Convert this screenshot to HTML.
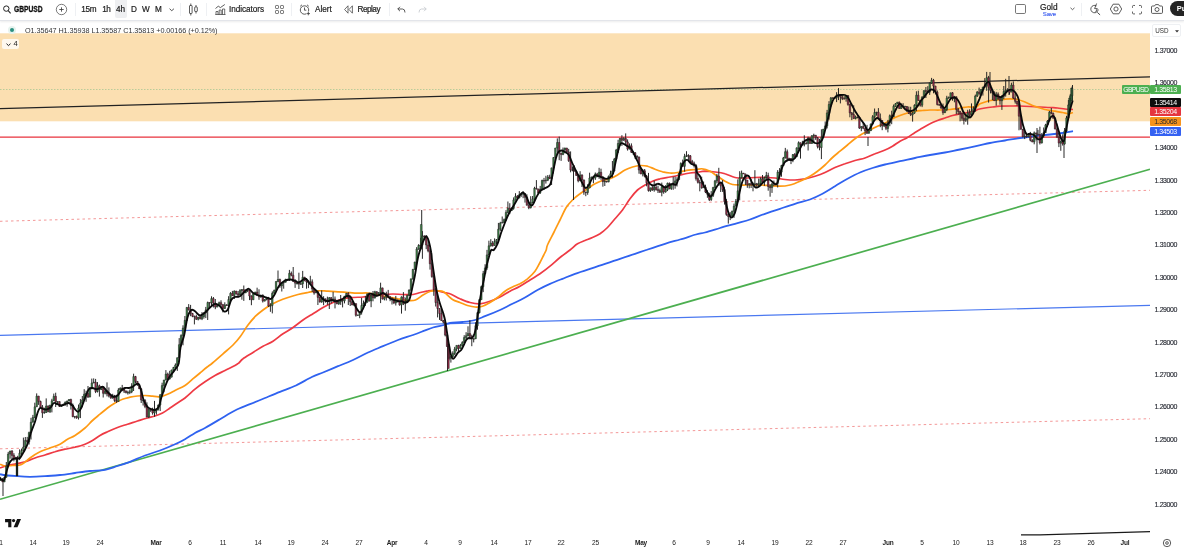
<!DOCTYPE html>
<html><head><meta charset="utf-8"><title>GBPUSD</title>
<style>
html,body{margin:0;padding:0;background:#fff;}
body{width:1184px;height:550px;overflow:hidden;position:relative;font-family:"Liberation Sans","DejaVu Sans",sans-serif;color:#131722;}
.chart{position:absolute;left:0;top:0;}
.tb{position:absolute;left:0;top:0;width:1184px;height:19.5px;background:#fff;border-bottom:1px solid #e3e5ea;box-shadow:0 1px 2px rgba(0,0,0,.08);}
.tb .t{position:absolute;top:4px;font-size:8.2px;line-height:11px;white-space:nowrap;color:#222;-webkit-text-stroke:0.2px #222;}
.tb .sep{position:absolute;top:3px;width:1px;height:13px;background:#eef0f3;}
.tb svg{position:absolute;overflow:visible;}
.legend{position:absolute;left:25px;top:25.5px;font-size:7.25px;line-height:10px;color:#333;white-space:nowrap;letter-spacing:-0.05px;}
.dot{position:absolute;left:9.5px;top:28px;width:4px;height:4px;border-radius:50%;background:#2b9080;box-shadow:0 0 0 2px #e6f3ee;}
.cnt{position:absolute;left:2.2px;top:38.7px;width:17px;height:10.5px;background:rgba(255,255,255,.78);border-radius:2px;font-size:7.6px;line-height:10.5px;color:#222;}
.axis{position:absolute;left:1150px;top:21px;width:35px;height:512px;background:#fff;}
.pl{position:absolute;left:1154.6px;font-size:7px;line-height:10px;color:#23262f;white-space:nowrap;letter-spacing:-0.4px;-webkit-text-stroke:0.12px #23262f;}
.dl{position:absolute;top:537.5px;width:30px;text-align:center;font-size:6.6px;line-height:10px;color:#1a1a1a;letter-spacing:-0.1px;}
.dl.b{font-weight:bold;color:#222;font-size:6.5px;letter-spacing:-0.2px;}
.tag{position:absolute;left:1150.3px;width:30.3px;height:9px;border-radius:1px;color:#fff;font-size:7px;line-height:9.4px;text-align:center;letter-spacing:-0.4px;}
.usd{position:absolute;left:1152px;top:24.3px;width:29px;height:12.5px;border:0.5px solid #eef0f3;border-radius:2px;font-size:6.3px;line-height:12.5px;color:#333;box-sizing:border-box;}
</style></head><body>
<svg class="chart" width="1184" height="550" viewBox="0 0 1184 550">
<rect x="0" y="33.3" width="1150" height="88" fill="#fbdfb1"/>
<line x1="0" y1="89.5" x2="1150" y2="89.5" stroke="#8fbf8a" stroke-width="0.6" stroke-dasharray="1.5,1.5"/>
<line x1="0" y1="221.3" x2="1150" y2="190.3" stroke="#f28b8b" stroke-width="0.9" stroke-dasharray="2.5,3"/>
<line x1="0" y1="448.8" x2="1150" y2="418.7" stroke="#f28b8b" stroke-width="0.9" stroke-dasharray="2.5,3"/>
<line x1="0" y1="335.4" x2="1150" y2="305.3" stroke="#4a78f0" stroke-width="1.2"/>
<line x1="0" y1="137.2" x2="1150" y2="137.2" stroke="#e8323c" stroke-width="1.3"/>
<line x1="0" y1="499.3" x2="1150" y2="169.2" stroke="#4caf50" stroke-width="1.7"/>
<line x1="0" y1="108.6" x2="1150" y2="76.8" stroke="#222" stroke-width="1.25"/>
<path d="M1021,534.9 L1040,534.8 L1150,531.6" fill="none" stroke="#1a1a1a" stroke-width="1.3"/>
<path d="M0.0,474.2 C1.2,474.5 4.6,475.2 7.5,475.5 C10.4,475.8 13.8,476.0 17.5,476.2 C21.2,476.5 25.4,476.8 30.0,476.8 C34.6,476.8 40.0,476.5 45.0,476.2 C50.0,476.0 55.0,475.5 60.0,475.0 C65.0,474.5 70.0,473.7 75.0,473.0 C80.0,472.3 85.0,471.5 90.0,471.0 C95.0,470.5 100.4,470.6 105.0,469.8 C109.6,468.9 113.3,467.3 117.5,466.0 C121.7,464.7 125.4,463.5 130.0,461.8 C134.6,460.0 140.0,457.4 145.0,455.5 C150.0,453.6 155.0,452.4 160.0,450.5 C165.0,448.6 170.8,446.1 175.0,444.2 C179.2,442.4 181.7,441.1 185.0,439.2 C188.3,437.4 191.7,434.9 195.0,433.0 C198.3,431.1 200.8,430.3 205.0,428.0 C209.2,425.7 215.0,422.2 220.0,419.2 C225.0,416.3 230.0,413.0 235.0,410.5 C240.0,408.0 245.0,406.3 250.0,404.2 C255.0,402.2 260.0,400.1 265.0,398.0 C270.0,395.9 274.8,393.8 280.0,391.8 C285.2,389.7 290.7,388.0 296.0,385.5 C301.3,383.0 307.2,379.2 311.8,377.0 C316.2,374.8 318.6,374.3 323.0,372.5 C327.4,370.7 333.0,368.3 338.0,366.2 C343.0,364.2 348.0,362.3 353.0,360.0 C358.0,357.7 363.0,354.8 368.0,352.5 C373.0,350.2 378.0,348.3 383.0,346.2 C388.0,344.2 393.0,341.9 398.0,340.0 C403.0,338.1 408.8,336.5 413.0,335.0 C417.2,333.5 419.7,332.5 423.0,331.2 C426.3,330.0 429.5,328.5 433.0,327.5 C436.5,326.5 441.2,325.8 444.0,325.0 C446.8,324.2 446.9,323.5 450.0,323.0 C453.1,322.5 458.3,322.5 462.5,322.0 C466.7,321.5 471.2,321.0 475.0,320.0 C478.8,319.0 480.8,317.9 485.0,316.2 C489.2,314.6 495.4,312.1 500.0,310.0 C504.6,307.9 508.3,305.8 512.5,303.8 C516.7,301.7 520.8,299.8 525.0,297.5 C529.2,295.2 533.3,292.3 537.5,290.0 C541.7,287.7 545.8,285.6 550.0,283.8 C554.2,281.9 558.3,280.4 562.5,278.8 C566.7,277.1 570.4,275.4 575.0,273.8 C579.6,272.1 585.0,270.4 590.0,268.8 C595.0,267.1 600.0,265.4 605.0,263.8 C610.0,262.1 615.0,260.4 620.0,258.8 C625.0,257.1 630.6,255.2 635.0,253.8 C639.4,252.3 641.2,251.7 646.2,250.0 C651.2,248.3 659.4,245.5 665.0,243.8 C670.6,242.0 674.8,241.0 680.0,239.5 C685.2,238.0 691.8,235.7 696.0,234.5 C700.2,233.3 701.0,233.6 705.0,232.5 C709.0,231.4 715.0,229.5 720.0,228.0 C725.0,226.5 730.0,225.2 735.0,223.8 C740.0,222.3 745.0,221.2 750.0,219.5 C755.0,217.8 760.0,215.5 765.0,213.8 C770.0,212.0 775.0,210.4 780.0,208.8 C785.0,207.1 790.0,205.3 795.0,203.8 C800.0,202.2 805.4,201.2 810.0,199.5 C814.6,197.8 818.3,196.0 822.5,193.8 C826.7,191.5 830.8,188.8 835.0,186.2 C839.2,183.8 843.3,181.0 847.5,178.8 C851.7,176.5 855.8,174.3 860.0,172.5 C864.2,170.7 868.3,169.3 872.5,168.0 C876.7,166.7 880.4,165.6 885.0,164.5 C889.6,163.4 895.0,162.3 900.0,161.2 C905.0,160.2 910.0,159.0 915.0,158.0 C920.0,157.0 925.0,155.9 930.0,155.0 C935.0,154.1 940.0,153.4 945.0,152.5 C950.0,151.6 954.8,150.5 960.0,149.5 C965.2,148.5 971.0,147.3 976.0,146.2 C981.0,145.2 985.2,144.0 990.0,143.0 C994.8,142.0 1000.0,141.3 1005.0,140.5 C1010.0,139.7 1015.0,138.7 1020.0,138.0 C1025.0,137.3 1030.0,136.8 1035.0,136.2 C1040.0,135.7 1045.4,135.0 1050.0,134.5 C1054.6,134.0 1058.7,133.5 1062.5,133.0 C1066.3,132.5 1071.2,131.5 1073.0,131.2" fill="none" stroke="#2f62f0" stroke-width="1.8" stroke-linejoin="round"/>
<path d="M0.0,468.0 C1.2,467.6 5.0,466.1 7.5,465.5 C10.0,464.9 12.1,464.9 15.0,464.2 C17.9,463.6 21.7,462.8 25.0,461.8 C28.3,460.7 31.7,459.1 35.0,458.0 C38.3,456.9 41.7,456.0 45.0,455.0 C48.3,454.0 51.7,452.7 55.0,451.8 C58.3,450.8 61.7,450.0 65.0,449.2 C68.3,448.5 71.7,448.1 75.0,447.2 C78.3,446.4 82.1,445.4 85.0,444.2 C87.9,443.1 90.0,442.0 92.5,440.5 C95.0,439.0 97.5,437.0 100.0,435.5 C102.5,434.0 104.6,433.1 107.5,431.8 C110.4,430.4 114.2,428.8 117.5,427.5 C120.8,426.2 124.2,425.3 127.5,424.2 C130.8,423.2 134.2,422.0 137.5,421.0 C140.8,420.0 144.6,418.8 147.5,418.0 C150.4,417.2 152.5,416.8 155.0,416.0 C157.5,415.2 160.0,414.3 162.5,413.0 C165.0,411.7 167.5,409.7 170.0,408.0 C172.5,406.3 175.0,404.7 177.5,403.0 C180.0,401.3 182.1,400.3 185.0,398.0 C187.9,395.7 191.7,392.0 195.0,389.2 C198.3,386.5 201.7,384.0 205.0,381.8 C208.3,379.5 211.7,377.4 215.0,375.5 C218.3,373.6 221.7,372.2 225.0,370.5 C228.3,368.8 232.7,366.8 235.0,365.5 C237.3,364.2 237.4,364.1 238.8,363.0 C240.1,361.9 240.6,360.5 243.0,358.8 C245.4,357.0 249.7,354.6 253.0,352.5 C256.3,350.4 259.7,348.1 263.0,346.2 C266.3,344.4 269.7,343.3 273.0,341.2 C276.3,339.2 279.7,336.0 283.0,333.8 C286.3,331.5 289.7,329.8 293.0,327.5 C296.3,325.2 299.7,322.3 303.0,320.0 C306.3,317.7 309.7,315.8 313.0,313.8 C316.3,311.7 319.7,309.4 323.0,307.5 C326.3,305.6 329.7,304.0 333.0,302.5 C336.3,301.0 339.7,299.6 343.0,298.8 C346.3,297.9 349.7,297.8 353.0,297.5 C356.3,297.2 359.7,297.3 363.0,297.0 C366.3,296.7 369.7,295.9 373.0,295.5 C376.3,295.1 379.7,294.8 383.0,294.5 C386.3,294.2 389.7,294.0 393.0,294.0 C396.3,294.0 399.7,294.4 403.0,294.5 C406.3,294.6 410.1,294.8 413.0,294.5 C415.9,294.2 418.0,293.1 420.5,292.5 C423.0,291.9 425.5,291.1 428.0,290.8 C430.5,290.4 432.8,290.2 435.5,290.5 C438.2,290.8 441.6,292.0 444.0,292.5 C446.4,293.0 447.3,292.7 450.0,293.8 C452.7,294.8 456.7,297.3 460.0,298.8 C463.3,300.2 466.7,301.7 470.0,302.5 C473.3,303.3 476.7,304.0 480.0,303.8 C483.3,303.5 486.7,302.4 490.0,301.2 C493.3,300.1 496.7,298.7 500.0,297.0 C503.3,295.3 506.7,293.0 510.0,291.2 C513.3,289.5 516.7,288.1 520.0,286.2 C523.3,284.4 526.7,282.1 530.0,280.0 C533.3,277.9 536.7,276.0 540.0,273.8 C543.3,271.5 546.7,269.0 550.0,266.2 C553.3,263.5 556.7,260.2 560.0,257.5 C563.3,254.8 567.1,252.3 570.0,250.0 C572.9,247.7 575.0,245.3 577.5,243.8 C580.0,242.2 582.5,241.5 585.0,240.5 C587.5,239.5 590.0,238.6 592.5,237.5 C595.0,236.4 597.5,235.4 600.0,233.8 C602.5,232.1 605.0,230.0 607.5,227.5 C610.0,225.0 612.5,221.7 615.0,218.8 C617.5,215.8 620.0,213.3 622.5,210.0 C625.0,206.7 627.5,202.1 630.0,198.8 C632.5,195.4 635.0,192.3 637.5,190.0 C640.0,187.7 642.5,186.5 645.0,185.0 C647.5,183.5 650.0,182.3 652.5,181.2 C655.0,180.2 657.1,179.5 660.0,178.8 C662.9,178.0 666.7,177.6 670.0,177.0 C673.3,176.4 676.7,175.7 680.0,175.0 C683.3,174.3 687.3,173.4 690.0,173.0 C692.7,172.6 693.5,172.8 696.0,172.5 C698.5,172.2 701.8,171.3 705.0,171.2 C708.2,171.2 711.7,171.6 715.0,172.0 C718.3,172.4 721.7,172.8 725.0,173.8 C728.3,174.7 731.7,176.8 735.0,177.5 C738.3,178.2 741.7,178.0 745.0,178.0 C748.3,178.0 751.7,177.6 755.0,177.5 C758.3,177.4 761.7,177.4 765.0,177.5 C768.3,177.6 771.7,177.7 775.0,178.0 C778.3,178.3 781.7,179.2 785.0,179.5 C788.3,179.8 791.7,180.1 795.0,180.0 C798.3,179.9 801.7,179.4 805.0,178.8 C808.3,178.1 811.7,177.3 815.0,176.2 C818.3,175.2 821.7,174.0 825.0,172.5 C828.3,171.0 831.7,169.0 835.0,167.5 C838.3,166.0 841.7,164.9 845.0,163.8 C848.3,162.6 851.7,161.5 855.0,160.5 C858.3,159.5 861.7,159.1 865.0,158.0 C868.3,156.9 871.7,155.1 875.0,153.8 C878.3,152.4 882.1,151.2 885.0,150.0 C887.9,148.8 890.0,147.7 892.5,146.2 C895.0,144.8 897.5,142.7 900.0,141.2 C902.5,139.8 905.0,139.0 907.5,137.5 C910.0,136.0 912.5,134.1 915.0,132.5 C917.5,130.9 920.0,129.5 922.5,128.0 C925.0,126.5 927.5,125.0 930.0,123.8 C932.5,122.5 935.0,121.5 937.5,120.5 C940.0,119.5 942.5,118.8 945.0,118.0 C947.5,117.2 950.0,116.2 952.5,115.5 C955.0,114.8 957.5,114.2 960.0,113.8 C962.5,113.2 964.8,113.0 967.5,112.5 C970.2,112.0 974.3,111.0 976.0,110.5 C977.7,110.0 976.0,109.9 977.5,109.5 C979.0,109.1 982.5,108.4 985.0,108.0 C987.5,107.6 990.0,107.3 992.5,107.0 C995.0,106.7 997.1,106.4 1000.0,106.2 C1002.9,106.1 1006.7,106.0 1010.0,106.0 C1013.3,106.0 1016.7,105.9 1020.0,106.0 C1023.3,106.1 1026.7,106.3 1030.0,106.5 C1033.3,106.7 1036.7,106.8 1040.0,107.0 C1043.3,107.2 1047.1,107.3 1050.0,107.5 C1052.9,107.7 1055.0,107.8 1057.5,108.0 C1060.0,108.2 1062.4,108.8 1065.0,109.0 C1067.6,109.2 1071.7,109.4 1073.0,109.5" fill="none" stroke="#ee3a44" stroke-width="1.7" stroke-linejoin="round"/>
<path d="M0.0,464.2 C0.8,464.5 2.9,465.8 5.0,466.0 C7.1,466.2 10.0,465.7 12.5,465.5 C15.0,465.3 18.1,465.4 20.0,465.0 C21.9,464.6 22.1,464.2 23.8,463.0 C25.4,461.8 27.3,459.9 30.0,458.0 C32.7,456.1 36.7,453.4 40.0,451.8 C43.3,450.1 46.7,449.2 50.0,448.0 C53.3,446.8 57.1,445.7 60.0,444.2 C62.9,442.8 65.0,440.7 67.5,439.2 C70.0,437.8 72.1,437.4 75.0,435.5 C77.9,433.6 82.1,430.5 85.0,428.0 C87.9,425.5 90.0,422.8 92.5,420.5 C95.0,418.2 97.5,416.3 100.0,414.2 C102.5,412.2 105.0,409.9 107.5,408.0 C110.0,406.1 112.5,404.5 115.0,403.0 C117.5,401.5 120.0,400.2 122.5,399.2 C125.0,398.3 127.5,397.8 130.0,397.2 C132.5,396.7 135.0,396.3 137.5,396.0 C140.0,395.7 142.5,395.5 145.0,395.5 C147.5,395.5 150.0,396.0 152.5,396.2 C155.0,396.5 157.5,397.1 160.0,396.8 C162.5,396.4 165.0,395.3 167.5,394.2 C170.0,393.2 172.1,392.0 175.0,390.5 C177.9,389.0 182.1,387.4 185.0,385.5 C187.9,383.6 190.0,381.3 192.5,379.2 C195.0,377.2 197.5,375.1 200.0,373.0 C202.5,370.9 205.4,368.4 207.5,366.8 C209.6,365.1 209.9,365.2 212.5,363.0 C215.1,360.8 219.6,356.8 223.0,353.8 C226.4,350.8 230.1,347.9 233.0,345.0 C235.9,342.1 238.0,339.6 240.5,336.2 C243.0,332.9 245.5,328.3 248.0,325.0 C250.5,321.7 253.0,318.8 255.5,316.2 C258.0,313.8 260.5,311.9 263.0,310.0 C265.5,308.1 268.0,306.5 270.5,305.0 C273.0,303.5 275.1,302.5 278.0,301.2 C280.9,300.0 284.7,298.6 288.0,297.5 C291.3,296.4 294.7,295.3 298.0,294.5 C301.3,293.7 304.7,293.1 308.0,292.5 C311.3,291.9 314.7,291.0 318.0,290.8 C321.3,290.5 324.7,291.1 328.0,291.2 C331.3,291.4 334.7,291.5 338.0,291.8 C341.3,292.0 344.7,292.2 348.0,292.5 C351.3,292.8 354.7,293.2 358.0,293.2 C361.3,293.3 364.7,292.7 368.0,293.0 C371.3,293.3 374.7,294.3 378.0,295.0 C381.3,295.7 384.7,296.4 388.0,297.0 C391.3,297.6 394.7,298.2 398.0,298.8 C401.3,299.3 405.1,300.3 408.0,300.5 C410.9,300.7 413.0,300.9 415.5,300.0 C418.0,299.1 420.5,296.5 423.0,295.0 C425.5,293.5 428.0,292.0 430.5,291.2 C433.0,290.5 435.8,290.6 438.0,290.8 C440.2,290.9 441.6,290.5 444.0,292.0 C446.4,293.5 449.8,297.8 452.5,299.5 C455.2,301.2 457.5,301.5 460.0,302.5 C462.5,303.5 465.0,304.8 467.5,305.5 C470.0,306.2 472.5,306.9 475.0,307.0 C477.5,307.1 480.0,307.0 482.5,306.2 C485.0,305.5 487.5,304.0 490.0,302.5 C492.5,301.0 495.0,299.4 497.5,297.5 C500.0,295.6 502.5,293.0 505.0,291.2 C507.5,289.5 510.0,288.2 512.5,287.0 C515.0,285.8 517.5,285.1 520.0,283.8 C522.5,282.4 525.0,280.8 527.5,278.8 C530.0,276.7 532.9,274.0 535.0,271.2 C537.1,268.5 538.5,265.2 540.0,262.5 C541.5,259.8 542.7,257.1 543.8,255.0 C544.8,252.9 545.6,251.7 546.2,250.0 C546.9,248.3 546.2,247.9 547.5,245.0 C548.8,242.1 551.7,236.7 553.8,232.5 C555.8,228.3 557.9,224.2 560.0,220.0 C562.1,215.8 564.2,210.8 566.2,207.5 C568.3,204.2 570.2,202.3 572.5,200.0 C574.8,197.7 577.5,195.6 580.0,193.8 C582.5,191.9 585.0,190.4 587.5,188.8 C590.0,187.1 592.5,185.1 595.0,183.8 C597.5,182.4 600.0,181.3 602.5,180.5 C605.0,179.7 607.5,179.7 610.0,178.8 C612.5,177.8 615.0,176.5 617.5,175.0 C620.0,173.5 622.5,171.3 625.0,170.0 C627.5,168.7 630.0,167.8 632.5,167.0 C635.0,166.2 637.5,165.6 640.0,165.5 C642.5,165.4 645.0,165.6 647.5,166.2 C650.0,166.9 652.5,168.3 655.0,169.2 C657.5,170.2 660.0,171.1 662.5,171.8 C665.0,172.4 667.5,172.9 670.0,173.0 C672.5,173.1 675.0,172.9 677.5,172.5 C680.0,172.1 681.9,171.2 685.0,170.8 C688.1,170.2 693.1,169.8 696.0,169.5 C698.9,169.2 700.2,168.5 702.5,168.8 C704.8,169.0 707.5,170.0 710.0,171.2 C712.5,172.5 715.0,174.6 717.5,176.2 C720.0,177.9 722.5,179.9 725.0,181.2 C727.5,182.6 730.0,183.9 732.5,184.5 C735.0,185.1 737.1,184.9 740.0,185.0 C742.9,185.1 746.7,185.0 750.0,185.0 C753.3,185.0 756.7,184.9 760.0,185.0 C763.3,185.1 766.7,185.3 770.0,185.5 C773.3,185.7 776.7,186.3 780.0,186.2 C783.3,186.2 786.7,185.8 790.0,185.0 C793.3,184.2 796.7,182.7 800.0,181.2 C803.3,179.8 807.1,177.9 810.0,176.2 C812.9,174.6 815.0,173.1 817.5,171.2 C820.0,169.4 822.5,167.3 825.0,165.0 C827.5,162.7 830.0,159.8 832.5,157.5 C835.0,155.2 837.5,153.3 840.0,151.2 C842.5,149.2 845.0,147.1 847.5,145.0 C850.0,142.9 852.5,140.6 855.0,138.8 C857.5,136.9 860.0,135.2 862.5,133.8 C865.0,132.3 867.5,131.2 870.0,130.0 C872.5,128.8 875.0,127.4 877.5,126.2 C880.0,125.1 882.5,124.2 885.0,123.0 C887.5,121.8 890.0,120.0 892.5,118.8 C895.0,117.5 897.5,116.5 900.0,115.5 C902.5,114.5 905.0,113.7 907.5,113.0 C910.0,112.3 912.5,111.7 915.0,111.2 C917.5,110.8 920.0,110.7 922.5,110.5 C925.0,110.3 927.1,110.1 930.0,110.0 C932.9,109.9 936.7,110.1 940.0,110.0 C943.3,109.9 946.7,109.8 950.0,109.5 C953.3,109.2 957.1,108.4 960.0,108.0 C962.9,107.6 964.8,107.2 967.5,107.0 C970.2,106.8 973.9,107.5 976.0,107.0 C978.1,106.5 978.1,104.7 980.0,103.8 C981.9,102.8 985.0,101.9 987.5,101.2 C990.0,100.6 992.5,100.3 995.0,100.0 C997.5,99.7 1000.0,99.7 1002.5,99.5 C1005.0,99.3 1007.5,98.8 1010.0,98.8 C1012.5,98.8 1015.0,99.0 1017.5,99.5 C1020.0,100.0 1022.5,101.0 1025.0,102.0 C1027.5,103.0 1030.0,104.5 1032.5,105.5 C1035.0,106.5 1037.5,107.2 1040.0,108.0 C1042.5,108.8 1045.0,109.5 1047.5,110.0 C1050.0,110.5 1052.5,110.8 1055.0,111.2 C1057.5,111.7 1060.2,112.1 1062.5,112.5 C1064.8,112.9 1067.0,113.8 1068.8,113.8 C1070.5,113.8 1072.3,112.7 1073.0,112.5" fill="none" stroke="#ff9a14" stroke-width="1.7" stroke-linejoin="round"/>
<path d="M0.6,476.9V480.7M2.5,478.3V482.0M4.4,477.1V482.1M6.3,462.0V477.6M8.2,451.9V467.4M10.1,450.8V458.7M12.0,450.1V459.4M13.9,453.2V461.3M15.8,457.0V459.4M17.7,455.8V458.1M19.6,449.4V460.1M21.5,448.6V455.0M23.4,437.6V450.9M25.3,437.0V447.4M27.2,436.9V443.6M29.1,431.6V444.5M31.0,417.8V439.5M32.9,414.9V422.3M34.8,402.7V418.3M36.7,393.4V406.8M38.6,395.9V404.9M40.5,400.7V408.1M42.4,405.0V417.9M44.3,407.7V413.6M46.2,398.4V412.9M48.1,405.4V412.3M50.0,405.0V413.0M51.9,398.8V412.4M53.8,393.6V400.9M55.7,392.7V407.0M57.6,401.3V404.4M59.5,401.4V407.0M61.4,405.0V406.9M63.3,403.6V405.1M65.2,401.5V405.7M67.1,400.7V406.7M69.0,399.2V401.2M70.9,398.7V409.5M72.8,403.5V417.1M74.7,416.3V418.5M76.6,415.6V418.8M78.5,404.5V419.5M80.4,399.1V418.1M82.3,396.0V407.2M84.2,389.2V400.0M86.1,390.6V401.8M88.0,386.0V398.0M89.9,387.3V397.4M91.8,378.6V389.4M93.7,378.4V383.2M95.6,378.9V393.1M97.5,382.1V392.5M99.4,384.6V396.6M101.3,386.3V389.9M103.2,386.3V397.5M105.1,388.3V394.4M107.0,382.4V396.4M108.9,387.4V397.4M110.8,395.4V398.8M112.7,393.8V398.7M114.6,394.9V401.9M116.5,394.8V402.8M118.4,388.2V401.6M120.3,387.5V390.0M122.2,384.9V391.2M124.1,387.5V393.0M126.0,390.4V393.4M127.9,390.7V394.6M129.8,389.5V394.1M131.7,383.2V393.2M133.6,373.7V391.0M135.5,375.9V383.3M137.4,381.1V385.9M139.3,383.9V389.0M141.2,388.4V403.0M143.1,399.6V405.5M145.0,399.2V408.2M146.9,402.3V417.4M148.8,409.1V417.9M150.7,409.6V411.9M152.6,407.7V414.7M154.5,400.9V416.7M156.4,409.1V414.6M158.3,404.6V410.5M160.2,394.3V411.0M162.1,382.7V394.9M164.0,379.9V392.3M165.9,370.1V380.3M167.8,372.6V379.8M169.7,370.8V379.6M171.6,369.7V377.5M173.5,366.9V370.9M175.4,363.4V367.9M177.3,357.7V370.9M179.2,338.1V358.0M181.1,334.3V346.3M183.0,325.3V345.3M184.9,316.0V331.0M186.8,307.2V320.7M188.7,304.1V310.5M190.6,304.9V316.2M192.5,312.9V317.2M194.4,315.6V324.4M196.3,314.7V319.9M198.2,317.0V320.4M200.1,315.3V319.4M202.0,312.1V320.1M203.9,312.4V318.6M205.8,306.9V318.1M207.7,301.6V320.0M209.6,302.4V307.2M211.5,296.3V306.0M213.4,297.0V307.5M215.3,299.0V309.2M217.2,304.8V307.2M219.1,301.6V305.7M221.0,300.3V307.2M222.9,304.5V312.4M224.8,302.3V308.7M226.7,304.2V305.7M228.6,296.2V314.4M230.5,292.2V301.0M232.4,290.9V295.9M234.3,290.4V299.0M236.2,290.9V294.6M238.1,291.0V297.7M240.0,289.1V295.3M241.9,289.1V299.7M243.8,285.5V300.9M245.7,289.5V293.2M247.6,289.6V292.1M249.5,289.6V300.1M251.4,295.3V305.2M253.3,293.5V299.8M255.2,291.8V294.6M257.1,287.7V295.5M259.0,289.3V299.8M260.9,294.6V297.9M262.8,294.3V302.5M264.7,299.4V301.4M266.6,296.8V300.3M268.5,296.9V307.0M270.4,303.2V311.8M272.3,291.4V313.4M274.2,289.6V293.4M276.1,281.2V292.0M278.0,270.5V282.2M279.9,278.6V287.8M281.8,282.4V291.5M283.7,281.6V288.7M285.6,278.8V282.5M287.5,279.1V280.4M289.4,269.9V281.0M291.3,271.5V276.3M293.2,267.0V281.9M295.1,279.1V287.9M297.0,281.8V284.5M298.9,272.7V289.0M300.8,281.6V284.1M302.7,270.9V288.0M304.6,276.9V281.1M306.5,278.0V288.7M308.4,280.4V288.1M310.3,275.8V284.8M312.2,279.4V292.0M314.1,288.9V294.7M316.0,290.1V293.0M317.9,290.8V305.0M319.8,296.7V302.6M321.7,290.4V302.8M323.6,296.2V305.2M325.5,298.7V302.6M327.4,296.7V304.8M329.3,297.1V309.0M331.2,297.1V303.4M333.1,291.8V301.6M335.0,296.5V308.4M336.9,300.0V304.3M338.8,301.6V304.9M340.7,295.0V304.9M342.6,299.7V307.4M344.5,296.0V303.4M346.4,292.9V296.1M348.3,292.3V305.0M350.2,296.5V306.0M352.1,300.5V305.1M354.0,303.1V306.1M355.9,303.5V316.6M357.8,314.8V315.5M359.7,311.6V318.2M361.6,297.9V314.6M363.5,300.5V306.4M365.4,296.1V305.9M367.3,293.7V302.7M369.2,292.6V301.6M371.1,293.6V307.2M373.0,291.0V301.3M374.9,290.8V298.7M376.8,291.3V297.0M378.7,292.3V293.8M380.6,282.7V303.1M382.5,287.7V299.4M384.4,296.6V300.4M386.3,291.7V300.5M388.2,289.9V297.9M390.1,296.0V301.2M392.0,297.6V304.5M393.9,298.3V304.1M395.8,295.9V305.5M397.7,299.6V302.5M399.6,300.9V305.7M401.5,296.4V313.6M403.4,292.1V305.1M405.3,297.6V310.7M407.2,294.8V302.3M409.1,289.4V296.1M411.0,278.8V290.9M412.9,268.9V279.7M414.8,261.8V269.7M416.7,247.1V264.4M418.6,244.2V249.8M420.5,237.8V246.4M422.4,231.1V258.8M424.3,235.4V240.0M426.2,235.5V249.1M428.1,239.8V252.3M430.0,248.3V269.6M431.9,261.4V277.7M433.8,274.8V295.8M435.7,288.0V306.5M437.6,295.7V317.4M439.5,308.4V319.9M441.4,309.4V320.9M443.3,319.9V323.4M445.2,321.6V336.4M447.1,334.0V346.9M449.0,346.5V360.3M450.9,356.3V362.6M452.8,351.3V357.3M454.7,346.9V355.0M456.6,345.4V351.3M458.5,344.8V351.9M460.4,343.9V348.7M462.3,341.2V345.7M464.2,335.2V342.8M466.1,332.2V339.3M468.0,326.3V336.2M469.9,320.2V339.5M471.8,334.7V346.2M473.7,338.2V342.4M475.6,322.3V339.1M477.5,311.9V329.7M479.4,299.1V313.4M481.3,285.7V299.7M483.2,270.9V292.1M485.1,264.2V273.9M487.0,249.9V269.8M488.9,240.7V255.2M490.8,239.2V246.6M492.7,241.0V246.6M494.6,238.4V245.7M496.5,239.0V244.1M498.4,222.9V239.7M500.3,221.8V231.0M502.2,216.5V223.2M504.1,218.5V223.1M506.0,210.2V221.1M507.9,201.5V213.2M509.8,203.2V214.1M511.7,207.5V210.5M513.6,197.4V209.7M515.5,193.2V200.6M517.4,195.1V198.7M519.3,191.1V198.1M521.2,193.7V196.9M523.1,191.2V198.2M525.0,193.5V202.6M526.9,194.3V205.4M528.8,202.1V209.2M530.7,196.2V208.4M532.6,196.0V203.3M534.5,186.8V202.7M536.4,180.1V189.5M538.3,188.9V193.6M540.2,185.9V193.9M542.1,179.6V189.8M544.0,177.9V190.0M545.9,175.8V183.6M547.8,175.0V181.1M549.7,174.7V178.8M551.6,167.7V185.0M553.5,157.2V173.5M555.4,147.9V159.7M557.3,138.4V152.1M559.2,136.6V160.2M561.1,152.7V160.9M563.0,147.5V155.2M564.9,147.7V153.3M566.8,147.9V152.6M568.7,148.9V161.9M570.6,151.4V172.3M572.5,166.4V171.3M574.4,165.5V171.4M576.3,170.7V175.5M578.2,175.5V182.3M580.1,171.2V181.2M582.0,174.3V187.0M583.9,179.5V194.8M585.8,191.8V196.2M587.7,184.2V194.8M589.6,172.7V188.1M591.5,176.8V178.5M593.4,175.7V183.2M595.3,172.5V179.9M597.2,172.9V177.2M599.1,167.8V178.9M601.0,168.7V179.8M602.9,176.2V186.7M604.8,178.4V186.0M606.7,180.9V182.5M608.6,175.5V182.3M610.5,170.7V176.7M612.4,161.0V177.6M614.3,157.9V171.4M616.2,148.9V159.3M618.1,139.8V153.0M620.0,138.0V145.7M621.9,135.2V145.9M623.8,137.2V140.8M625.7,133.4V145.5M627.6,139.4V150.6M629.5,143.4V149.4M631.4,143.4V153.0M633.3,150.9V155.0M635.2,152.2V159.0M637.1,155.2V158.6M639.0,156.6V173.7M640.9,168.3V174.2M642.8,169.0V176.4M644.7,169.0V177.4M646.6,174.9V186.3M648.5,172.9V191.6M650.4,187.8V191.9M652.3,184.9V190.9M654.2,180.6V191.7M656.1,183.4V190.7M658.0,185.6V193.0M659.9,188.6V192.8M661.8,182.6V196.3M663.7,185.9V193.8M665.6,185.2V192.7M667.5,182.6V191.1M669.4,182.5V189.3M671.3,183.6V189.9M673.2,176.7V189.8M675.1,176.6V188.7M677.0,177.2V186.5M678.9,172.8V179.9M680.8,162.4V173.9M682.7,159.6V166.7M684.6,153.8V171.7M686.5,151.2V157.0M688.4,154.2V160.9M690.3,155.0V162.0M692.2,159.9V163.6M694.1,161.6V167.5M696.0,164.1V180.6M697.9,174.2V183.5M699.8,179.9V191.3M701.7,176.7V188.7M703.6,181.5V187.8M705.5,184.7V193.1M707.4,190.3V197.8M709.3,192.9V201.0M711.2,191.1V200.9M713.1,186.8V197.0M715.0,179.9V188.5M716.9,173.9V183.3M718.8,167.8V185.5M720.7,183.1V192.0M722.6,180.1V191.9M724.5,187.3V204.6M726.4,199.1V215.8M728.3,214.1V223.6M730.2,212.2V220.1M732.1,210.6V217.2M734.0,203.6V217.8M735.9,199.0V206.2M737.8,179.4V202.5M739.7,171.2V200.3M741.6,170.6V178.4M743.5,173.1V173.9M745.4,173.7V185.0M747.3,180.1V187.8M749.2,183.5V188.3M751.1,179.0V188.0M753.0,182.6V191.3M754.9,170.2V187.1M756.8,182.9V188.1M758.7,178.6V186.6M760.6,177.4V186.0M762.5,175.0V183.2M764.4,176.5V185.8M766.3,171.9V179.7M768.2,172.7V190.7M770.1,184.2V196.7M772.0,182.7V192.9M773.9,180.5V186.2M775.8,183.2V184.2M777.7,170.1V187.5M779.6,168.1V177.0M781.5,164.8V176.7M783.4,156.9V165.7M785.3,147.9V158.5M787.2,149.5V161.1M789.1,157.8V159.2M791.0,158.2V164.1M792.9,154.0V162.2M794.8,153.0V158.8M796.7,147.4V157.1M798.6,141.4V149.7M800.5,142.6V158.6M802.4,140.8V145.0M804.3,135.3V146.4M806.2,141.3V144.2M808.1,136.7V150.5M810.0,137.3V143.6M811.9,135.2V143.7M813.8,133.7V142.8M815.7,135.0V139.9M817.6,137.0V148.4M819.5,138.9V150.3M821.4,129.3V159.1M823.3,129.0V138.1M825.2,121.5V129.3M827.1,109.9V128.4M829.0,101.2V119.6M830.9,97.0V106.7M832.8,97.2V98.2M834.7,97.2V98.6M836.6,92.2V102.1M838.5,88.1V100.1M840.4,94.3V103.4M842.3,94.7V100.1M844.2,96.2V99.0M846.1,95.6V101.7M848.0,95.0V105.7M849.9,103.7V117.3M851.8,112.0V120.1M853.7,105.3V118.7M855.6,115.5V119.4M857.5,116.5V118.3M859.4,116.9V128.9M861.3,126.3V131.2M863.2,122.5V129.2M865.1,128.2V135.1M867.0,124.9V133.8M868.9,130.4V133.7M870.8,123.7V130.9M872.7,115.1V124.7M874.6,108.5V118.8M876.5,111.9V115.7M878.4,108.1V119.3M880.3,113.5V127.2M882.2,120.1V130.2M884.1,123.7V127.0M886.0,122.7V130.1M887.9,119.9V132.4M889.8,114.5V126.2M891.7,110.7V124.2M893.6,104.5V116.9M895.5,103.1V106.8M897.4,102.0V104.0M899.3,101.6V108.6M901.2,103.3V108.8M903.1,103.2V107.2M905.0,105.7V107.4M906.9,106.1V112.0M908.8,106.6V113.9M910.7,106.8V116.0M912.6,111.9V121.6M914.5,104.3V113.8M916.4,91.3V111.2M918.3,90.7V100.6M920.2,99.8V106.6M922.1,96.1V107.1M924.0,90.5V97.6M925.9,87.0V98.0M927.8,86.2V92.2M929.7,82.5V94.9M931.6,77.9V83.9M933.5,78.9V93.3M935.4,85.8V94.4M937.3,90.5V105.4M939.2,104.3V105.6M941.1,104.0V108.8M943.0,103.6V114.8M944.9,107.0V113.1M946.8,95.8V111.1M948.7,96.6V98.7M950.6,92.8V98.3M952.5,92.1V100.7M954.4,95.9V102.3M956.3,96.6V114.3M958.2,108.0V114.7M960.1,110.9V121.3M962.0,112.5V120.9M963.9,113.7V124.5M965.8,115.4V121.9M967.7,109.8V124.7M969.6,109.3V117.3M971.5,103.4V117.2M973.4,106.4V112.5M975.3,94.6V111.8M977.2,91.0V97.0M979.1,87.6V95.3M981.0,89.2V95.7M982.9,86.9V95.6M984.8,78.1V87.7M986.7,71.9V90.8M988.6,75.9V102.6M990.5,85.5V93.4M992.4,89.6V100.2M994.3,91.3V100.9M996.2,91.9V105.7M998.1,92.4V99.9M1000.0,96.7V104.7M1001.9,95.4V109.9M1003.8,86.0V99.1M1005.7,78.8V96.6M1007.6,88.2V91.7M1009.5,89.6V94.5M1011.4,82.7V92.2M1013.3,81.4V99.0M1015.2,93.7V103.5M1017.1,100.8V105.6M1019.0,102.1V130.3M1020.9,115.0V129.6M1022.8,129.0V137.3M1024.7,131.9V139.1M1026.6,132.6V137.7M1028.5,133.0V137.2M1030.4,131.9V141.4M1032.3,139.2V142.1M1034.2,131.5V144.3M1036.1,132.8V140.4M1038.0,129.9V135.3M1039.9,126.7V144.5M1041.8,133.0V143.5M1043.7,127.5V137.6M1045.6,123.8V133.0M1047.5,120.1V126.9M1049.4,110.9V121.1M1051.3,108.0V114.3M1053.2,112.6V118.3M1055.1,117.3V129.4M1057.0,124.6V137.5M1058.9,132.8V147.1M1060.8,140.4V150.8M1062.7,134.3V145.6M1064.6,128.0V144.7M1066.5,115.8V132.0M1068.4,100.0V118.3M1070.3,93.9V105.7M1072.2,86.4V96.7M3.0,478.0V496.0M421.7,210.0V240.0M447.5,340.0V371.0M573.5,165.0V200.0M1064.0,140.0V158.0M1072.5,85.0V100.0M868.0,137.0V146.0M1037.0,128.0V153.0M990.0,72.0V90.0M1009.0,76.0V95.0" stroke="#1e1e1e" stroke-width="0.95" fill="none"/>
<path d="M-0.15,479.4h1.5v1.1h-1.5zM3.65,477.3h1.5v4.6h-1.5zM5.55,466.2h1.5v11.1h-1.5zM7.45,454.0h1.5v12.2h-1.5zM9.35,451.0h1.5v3.0h-1.5zM15.05,457.2h1.5v1.6h-1.5zM18.85,453.2h1.5v4.0h-1.5zM20.75,450.6h1.5v2.6h-1.5zM22.65,447.0h1.5v3.6h-1.5zM24.55,440.4h1.5v6.6h-1.5zM28.35,432.6h1.5v9.1h-1.5zM30.25,422.2h1.5v10.4h-1.5zM32.15,417.5h1.5v4.7h-1.5zM34.05,406.8h1.5v10.7h-1.5zM35.95,396.1h1.5v10.7h-1.5zM43.55,412.5h1.5v0.6h-1.5zM45.45,406.0h1.5v6.5h-1.5zM49.25,405.0h1.5v6.6h-1.5zM51.15,400.8h1.5v4.3h-1.5zM53.05,396.3h1.5v4.4h-1.5zM56.85,401.6h1.5v0.6h-1.5zM60.65,405.0h1.5v1.4h-1.5zM62.55,404.7h1.5v0.6h-1.5zM64.45,402.2h1.5v2.5h-1.5zM66.35,401.0h1.5v1.2h-1.5zM68.25,399.5h1.5v1.5h-1.5zM73.95,416.4h1.5v0.6h-1.5zM77.75,408.0h1.5v9.7h-1.5zM79.65,403.1h1.5v4.9h-1.5zM81.55,399.9h1.5v3.2h-1.5zM83.45,394.2h1.5v5.7h-1.5zM85.35,393.4h1.5v0.9h-1.5zM89.15,387.9h1.5v9.0h-1.5zM91.05,383.0h1.5v4.9h-1.5zM92.95,382.2h1.5v0.8h-1.5zM96.75,385.8h1.5v5.7h-1.5zM100.55,386.7h1.5v2.9h-1.5zM104.35,390.9h1.5v2.4h-1.5zM111.95,395.9h1.5v2.1h-1.5zM117.65,390.0h1.5v11.5h-1.5zM119.55,388.0h1.5v2.0h-1.5zM127.15,392.4h1.5v0.6h-1.5zM129.05,391.8h1.5v0.6h-1.5zM130.95,386.0h1.5v5.8h-1.5zM132.85,376.6h1.5v9.4h-1.5zM148.05,409.6h1.5v7.4h-1.5zM153.75,410.9h1.5v2.0h-1.5zM155.65,409.2h1.5v1.8h-1.5zM157.55,405.0h1.5v4.2h-1.5zM159.45,394.7h1.5v10.3h-1.5zM161.35,385.6h1.5v9.1h-1.5zM163.25,380.0h1.5v5.5h-1.5zM165.15,374.0h1.5v6.0h-1.5zM168.95,377.1h1.5v1.8h-1.5zM170.85,370.0h1.5v7.1h-1.5zM172.75,367.4h1.5v2.6h-1.5zM174.65,365.0h1.5v2.4h-1.5zM176.55,357.7h1.5v7.3h-1.5zM178.45,344.7h1.5v13.0h-1.5zM180.35,335.6h1.5v9.1h-1.5zM182.25,328.1h1.5v7.5h-1.5zM184.15,320.3h1.5v7.8h-1.5zM186.05,307.4h1.5v13.0h-1.5zM197.45,317.0h1.5v2.2h-1.5zM201.25,316.5h1.5v2.3h-1.5zM203.15,313.0h1.5v3.5h-1.5zM205.05,309.9h1.5v3.1h-1.5zM206.95,302.5h1.5v7.4h-1.5zM210.75,298.6h1.5v4.2h-1.5zM216.45,305.4h1.5v1.7h-1.5zM218.35,302.7h1.5v2.8h-1.5zM224.05,304.9h1.5v3.6h-1.5zM227.85,299.5h1.5v6.1h-1.5zM229.75,293.3h1.5v6.1h-1.5zM233.55,291.1h1.5v4.7h-1.5zM239.25,290.6h1.5v4.4h-1.5zM241.15,289.6h1.5v0.9h-1.5zM244.95,290.3h1.5v2.4h-1.5zM246.85,289.9h1.5v0.6h-1.5zM252.55,293.6h1.5v6.2h-1.5zM254.45,292.1h1.5v1.4h-1.5zM260.15,295.4h1.5v1.4h-1.5zM263.95,299.5h1.5v1.6h-1.5zM265.85,297.5h1.5v2.1h-1.5zM269.65,305.6h1.5v0.6h-1.5zM271.55,293.3h1.5v12.3h-1.5zM273.45,290.4h1.5v2.9h-1.5zM275.35,281.5h1.5v8.9h-1.5zM277.25,279.5h1.5v2.0h-1.5zM281.05,283.0h1.5v2.9h-1.5zM282.95,282.2h1.5v0.7h-1.5zM284.85,279.3h1.5v2.9h-1.5zM288.65,273.3h1.5v6.5h-1.5zM296.25,283.1h1.5v0.6h-1.5zM300.05,283.8h1.5v0.6h-1.5zM301.95,277.2h1.5v6.6h-1.5zM309.55,281.8h1.5v0.6h-1.5zM315.25,292.3h1.5v0.7h-1.5zM320.95,299.0h1.5v2.9h-1.5zM322.85,298.8h1.5v0.6h-1.5zM326.65,300.6h1.5v1.0h-1.5zM328.55,297.7h1.5v2.9h-1.5zM332.35,299.1h1.5v0.8h-1.5zM338.05,301.8h1.5v2.0h-1.5zM339.95,300.2h1.5v1.6h-1.5zM343.75,296.1h1.5v4.8h-1.5zM345.65,293.3h1.5v2.7h-1.5zM353.25,303.6h1.5v1.4h-1.5zM357.05,314.9h1.5v0.6h-1.5zM358.95,312.3h1.5v2.6h-1.5zM360.85,305.5h1.5v6.8h-1.5zM362.75,303.5h1.5v2.0h-1.5zM364.65,302.0h1.5v1.5h-1.5zM366.55,293.8h1.5v8.3h-1.5zM370.35,295.2h1.5v5.7h-1.5zM374.15,291.8h1.5v5.9h-1.5zM377.95,292.5h1.5v1.2h-1.5zM379.85,287.9h1.5v4.6h-1.5zM383.65,297.2h1.5v1.9h-1.5zM385.55,294.3h1.5v2.9h-1.5zM395.05,299.9h1.5v3.0h-1.5zM400.75,296.9h1.5v8.0h-1.5zM404.55,301.2h1.5v2.5h-1.5zM406.45,295.4h1.5v5.8h-1.5zM408.35,290.0h1.5v5.4h-1.5zM410.25,278.8h1.5v11.2h-1.5zM412.15,269.4h1.5v9.4h-1.5zM414.05,262.0h1.5v7.4h-1.5zM415.95,249.0h1.5v13.0h-1.5zM417.85,245.5h1.5v3.5h-1.5zM419.75,245.1h1.5v0.6h-1.5zM421.65,235.9h1.5v9.2h-1.5zM450.15,356.4h1.5v1.9h-1.5zM452.05,353.6h1.5v2.8h-1.5zM453.95,349.0h1.5v4.6h-1.5zM455.85,345.4h1.5v3.6h-1.5zM459.65,345.5h1.5v2.9h-1.5zM461.55,342.6h1.5v2.9h-1.5zM463.45,337.6h1.5v5.0h-1.5zM465.35,335.8h1.5v1.7h-1.5zM467.25,333.6h1.5v2.3h-1.5zM472.95,338.7h1.5v0.6h-1.5zM474.85,325.7h1.5v13.0h-1.5zM476.75,312.7h1.5v13.0h-1.5zM478.65,299.7h1.5v13.0h-1.5zM480.55,286.7h1.5v13.0h-1.5zM482.45,273.7h1.5v13.0h-1.5zM484.35,267.9h1.5v5.8h-1.5zM486.25,254.9h1.5v13.0h-1.5zM488.15,245.8h1.5v9.1h-1.5zM490.05,243.1h1.5v2.8h-1.5zM493.85,241.7h1.5v3.9h-1.5zM495.75,239.7h1.5v2.0h-1.5zM497.65,229.2h1.5v10.5h-1.5zM499.55,223.1h1.5v6.1h-1.5zM501.45,222.5h1.5v0.6h-1.5zM503.35,219.6h1.5v2.9h-1.5zM505.25,212.5h1.5v7.1h-1.5zM507.15,208.2h1.5v4.4h-1.5zM510.95,208.3h1.5v2.2h-1.5zM512.85,199.9h1.5v8.4h-1.5zM514.75,196.3h1.5v3.6h-1.5zM518.55,194.7h1.5v3.4h-1.5zM520.45,194.2h1.5v0.6h-1.5zM522.35,193.6h1.5v0.6h-1.5zM529.95,202.5h1.5v5.3h-1.5zM531.85,198.9h1.5v3.6h-1.5zM533.75,188.2h1.5v10.7h-1.5zM539.45,189.2h1.5v3.7h-1.5zM541.35,180.5h1.5v8.7h-1.5zM545.15,180.2h1.5v0.6h-1.5zM547.05,177.0h1.5v3.2h-1.5zM550.85,167.9h1.5v10.7h-1.5zM552.75,157.6h1.5v10.3h-1.5zM554.65,148.0h1.5v9.6h-1.5zM556.55,142.5h1.5v5.5h-1.5zM562.25,149.9h1.5v4.5h-1.5zM564.15,148.0h1.5v1.9h-1.5zM579.35,175.0h1.5v5.6h-1.5zM586.95,187.9h1.5v4.6h-1.5zM588.85,178.0h1.5v9.9h-1.5zM590.75,176.9h1.5v1.1h-1.5zM594.55,174.0h1.5v4.1h-1.5zM598.35,172.3h1.5v4.0h-1.5zM604.05,181.3h1.5v0.6h-1.5zM607.85,176.4h1.5v5.4h-1.5zM609.75,173.8h1.5v2.6h-1.5zM611.65,170.9h1.5v2.9h-1.5zM613.55,159.2h1.5v11.7h-1.5zM615.45,150.1h1.5v9.1h-1.5zM617.35,143.5h1.5v6.6h-1.5zM619.25,138.4h1.5v5.1h-1.5zM623.05,138.5h1.5v1.7h-1.5zM628.75,145.8h1.5v3.3h-1.5zM642.05,170.8h1.5v3.2h-1.5zM649.65,187.8h1.5v2.8h-1.5zM653.45,187.3h1.5v2.6h-1.5zM661.05,186.7h1.5v5.5h-1.5zM664.85,189.7h1.5v2.2h-1.5zM666.75,183.3h1.5v6.5h-1.5zM670.55,185.2h1.5v3.4h-1.5zM672.45,183.0h1.5v2.2h-1.5zM674.35,180.9h1.5v2.2h-1.5zM676.25,179.6h1.5v1.2h-1.5zM678.15,173.5h1.5v6.2h-1.5zM680.05,163.4h1.5v10.1h-1.5zM683.85,156.5h1.5v9.8h-1.5zM685.75,155.6h1.5v0.8h-1.5zM702.85,187.0h1.5v0.7h-1.5zM710.45,195.3h1.5v4.3h-1.5zM712.35,187.6h1.5v7.8h-1.5zM714.25,180.9h1.5v6.7h-1.5zM716.15,176.0h1.5v4.9h-1.5zM729.45,216.3h1.5v0.6h-1.5zM731.35,211.3h1.5v5.0h-1.5zM733.25,206.1h1.5v5.2h-1.5zM735.15,201.1h1.5v5.0h-1.5zM737.05,190.8h1.5v10.2h-1.5zM738.95,177.8h1.5v13.0h-1.5zM740.85,173.1h1.5v4.7h-1.5zM748.45,183.6h1.5v1.1h-1.5zM752.25,184.1h1.5v0.8h-1.5zM754.15,183.8h1.5v0.6h-1.5zM757.95,183.3h1.5v1.7h-1.5zM759.85,178.8h1.5v4.5h-1.5zM763.65,177.7h1.5v4.5h-1.5zM765.55,175.6h1.5v2.0h-1.5zM771.25,184.0h1.5v3.6h-1.5zM773.15,183.2h1.5v0.8h-1.5zM776.95,172.2h1.5v11.2h-1.5zM778.85,172.1h1.5v0.6h-1.5zM780.75,165.5h1.5v6.6h-1.5zM782.65,157.9h1.5v7.6h-1.5zM784.55,151.7h1.5v6.2h-1.5zM792.15,154.6h1.5v5.5h-1.5zM795.95,147.9h1.5v8.7h-1.5zM797.85,142.7h1.5v5.3h-1.5zM803.55,143.3h1.5v1.3h-1.5zM807.35,138.0h1.5v5.4h-1.5zM811.15,135.7h1.5v7.8h-1.5zM813.05,135.2h1.5v0.6h-1.5zM820.65,137.4h1.5v10.2h-1.5zM822.55,129.1h1.5v8.3h-1.5zM824.45,125.9h1.5v3.2h-1.5zM826.35,112.9h1.5v13.0h-1.5zM828.25,104.5h1.5v8.4h-1.5zM830.15,97.9h1.5v6.7h-1.5zM833.95,97.7h1.5v0.6h-1.5zM835.85,95.3h1.5v2.4h-1.5zM837.75,94.6h1.5v0.7h-1.5zM845.35,95.7h1.5v2.9h-1.5zM854.85,117.0h1.5v1.5h-1.5zM860.55,126.5h1.5v1.6h-1.5zM868.15,130.7h1.5v2.5h-1.5zM870.05,123.9h1.5v6.8h-1.5zM871.95,116.7h1.5v7.2h-1.5zM873.85,112.5h1.5v4.2h-1.5zM875.75,112.1h1.5v0.6h-1.5zM883.35,124.1h1.5v1.8h-1.5zM887.15,122.9h1.5v5.5h-1.5zM889.05,115.7h1.5v7.2h-1.5zM892.85,106.3h1.5v10.5h-1.5zM894.75,103.8h1.5v2.6h-1.5zM896.65,102.1h1.5v1.6h-1.5zM900.45,106.2h1.5v2.3h-1.5zM904.25,106.5h1.5v0.6h-1.5zM911.85,113.1h1.5v1.7h-1.5zM913.75,105.3h1.5v7.8h-1.5zM915.65,95.2h1.5v10.2h-1.5zM921.35,97.2h1.5v8.0h-1.5zM923.25,90.6h1.5v6.7h-1.5zM928.95,83.2h1.5v8.9h-1.5zM930.85,80.2h1.5v3.0h-1.5zM944.15,109.6h1.5v3.0h-1.5zM946.05,98.1h1.5v11.5h-1.5zM947.95,97.3h1.5v0.8h-1.5zM949.85,92.8h1.5v4.5h-1.5zM953.65,96.7h1.5v2.0h-1.5zM965.05,118.8h1.5v1.5h-1.5zM966.95,112.8h1.5v6.1h-1.5zM970.75,111.3h1.5v3.9h-1.5zM972.65,108.7h1.5v2.6h-1.5zM974.55,96.1h1.5v12.6h-1.5zM976.45,92.1h1.5v4.0h-1.5zM980.25,89.5h1.5v4.1h-1.5zM982.15,87.1h1.5v2.4h-1.5zM984.05,85.8h1.5v1.3h-1.5zM985.95,77.7h1.5v8.0h-1.5zM995.45,94.0h1.5v6.6h-1.5zM1001.15,96.3h1.5v4.4h-1.5zM1003.05,91.4h1.5v4.9h-1.5zM1004.95,89.9h1.5v1.5h-1.5zM1010.65,85.1h1.5v7.0h-1.5zM1023.95,136.1h1.5v0.7h-1.5zM1027.75,134.0h1.5v2.7h-1.5zM1033.45,132.9h1.5v9.1h-1.5zM1041.05,136.1h1.5v6.8h-1.5zM1042.95,132.5h1.5v3.5h-1.5zM1044.85,124.9h1.5v7.6h-1.5zM1046.75,121.0h1.5v3.9h-1.5zM1048.65,112.2h1.5v8.8h-1.5zM1060.05,141.5h1.5v1.6h-1.5zM1063.85,130.9h1.5v13.0h-1.5zM1065.75,117.9h1.5v13.0h-1.5zM1067.65,104.9h1.5v13.0h-1.5zM1069.55,95.8h1.5v9.1h-1.5zM1071.45,88.4h1.5v7.4h-1.5zM420.40,224.5h1.6v24.5h-1.6zM1070.70,88.0h1.6v13.0h-1.6zM1068.70,98.0h1.6v14.0h-1.6zM16.20,458.0h1.6v18.0h-1.6z" fill="#3f8a4a" stroke="#1e1e1e" stroke-width="0.5"/>
<path d="M1.75,479.4h1.5v2.4h-1.5zM11.25,451.0h1.5v4.4h-1.5zM13.15,455.3h1.5v3.5h-1.5zM16.95,457.2h1.5v0.6h-1.5zM26.45,440.4h1.5v1.3h-1.5zM37.85,396.1h1.5v5.3h-1.5zM39.75,401.4h1.5v5.5h-1.5zM41.65,406.9h1.5v5.9h-1.5zM47.35,406.0h1.5v5.6h-1.5zM54.95,396.3h1.5v5.7h-1.5zM58.75,401.6h1.5v4.9h-1.5zM70.15,399.5h1.5v5.8h-1.5zM72.05,405.3h1.5v11.5h-1.5zM75.85,416.4h1.5v1.3h-1.5zM87.25,393.4h1.5v3.5h-1.5zM94.85,382.2h1.5v9.3h-1.5zM98.65,385.8h1.5v3.8h-1.5zM102.45,386.7h1.5v6.6h-1.5zM106.25,390.9h1.5v3.0h-1.5zM108.15,393.9h1.5v2.2h-1.5zM110.05,396.1h1.5v1.9h-1.5zM113.85,395.9h1.5v4.6h-1.5zM115.75,400.5h1.5v1.1h-1.5zM121.45,388.0h1.5v1.3h-1.5zM123.35,389.3h1.5v1.8h-1.5zM125.25,391.1h1.5v1.5h-1.5zM134.75,376.6h1.5v4.8h-1.5zM136.65,381.4h1.5v3.2h-1.5zM138.55,384.5h1.5v4.3h-1.5zM140.45,388.8h1.5v11.2h-1.5zM142.35,400.0h1.5v0.6h-1.5zM144.25,400.4h1.5v6.1h-1.5zM146.15,406.5h1.5v10.5h-1.5zM149.95,409.6h1.5v0.6h-1.5zM151.85,410.0h1.5v2.9h-1.5zM167.05,374.0h1.5v4.8h-1.5zM187.95,307.4h1.5v2.4h-1.5zM189.85,309.8h1.5v3.8h-1.5zM191.75,313.5h1.5v2.8h-1.5zM193.65,316.3h1.5v0.6h-1.5zM195.55,316.6h1.5v2.7h-1.5zM199.35,317.0h1.5v1.8h-1.5zM208.85,302.5h1.5v0.6h-1.5zM212.65,298.6h1.5v4.6h-1.5zM214.55,303.2h1.5v3.9h-1.5zM220.25,302.7h1.5v1.8h-1.5zM222.15,304.5h1.5v4.1h-1.5zM225.95,304.9h1.5v0.6h-1.5zM231.65,293.3h1.5v2.4h-1.5zM235.45,291.1h1.5v2.8h-1.5zM237.35,293.8h1.5v1.1h-1.5zM243.05,289.6h1.5v3.0h-1.5zM248.75,289.9h1.5v6.1h-1.5zM250.65,296.0h1.5v3.8h-1.5zM256.35,292.1h1.5v3.4h-1.5zM258.25,295.5h1.5v1.3h-1.5zM262.05,295.4h1.5v5.7h-1.5zM267.75,297.5h1.5v8.5h-1.5zM279.15,279.5h1.5v6.4h-1.5zM286.75,279.3h1.5v0.6h-1.5zM290.55,273.3h1.5v1.9h-1.5zM292.45,275.2h1.5v6.3h-1.5zM294.35,281.5h1.5v1.6h-1.5zM298.15,283.1h1.5v1.0h-1.5zM303.85,277.2h1.5v3.6h-1.5zM305.75,280.7h1.5v1.2h-1.5zM307.65,281.9h1.5v0.6h-1.5zM311.45,281.8h1.5v7.3h-1.5zM313.35,289.1h1.5v3.9h-1.5zM317.15,292.3h1.5v5.1h-1.5zM319.05,297.3h1.5v4.6h-1.5zM324.75,298.8h1.5v2.8h-1.5zM330.45,297.7h1.5v2.2h-1.5zM334.25,299.1h1.5v2.1h-1.5zM336.15,301.2h1.5v2.5h-1.5zM341.85,300.2h1.5v0.6h-1.5zM347.55,293.3h1.5v4.2h-1.5zM349.45,297.5h1.5v4.3h-1.5zM351.35,301.8h1.5v3.2h-1.5zM355.15,303.6h1.5v11.7h-1.5zM368.45,293.8h1.5v7.1h-1.5zM372.25,295.2h1.5v2.6h-1.5zM376.05,291.8h1.5v1.9h-1.5zM381.75,287.9h1.5v11.2h-1.5zM387.45,294.3h1.5v2.7h-1.5zM389.35,297.1h1.5v0.9h-1.5zM391.25,298.0h1.5v1.3h-1.5zM393.15,299.3h1.5v3.6h-1.5zM396.95,299.9h1.5v1.1h-1.5zM398.85,301.0h1.5v3.9h-1.5zM402.65,296.9h1.5v6.8h-1.5zM423.55,235.9h1.5v1.0h-1.5zM425.45,236.9h1.5v8.1h-1.5zM427.35,245.0h1.5v5.8h-1.5zM429.25,250.8h1.5v13.0h-1.5zM431.15,263.8h1.5v12.8h-1.5zM433.05,276.6h1.5v13.0h-1.5zM434.95,289.6h1.5v13.0h-1.5zM436.85,302.6h1.5v5.9h-1.5zM438.75,308.5h1.5v5.1h-1.5zM440.65,313.6h1.5v6.9h-1.5zM442.55,320.5h1.5v1.6h-1.5zM444.45,322.1h1.5v13.0h-1.5zM446.35,335.1h1.5v11.4h-1.5zM448.25,346.6h1.5v11.7h-1.5zM457.75,345.4h1.5v3.0h-1.5zM469.15,333.6h1.5v2.7h-1.5zM471.05,336.3h1.5v2.4h-1.5zM491.95,243.1h1.5v2.5h-1.5zM509.05,208.2h1.5v2.3h-1.5zM516.65,196.3h1.5v1.7h-1.5zM524.25,193.6h1.5v3.7h-1.5zM526.15,197.3h1.5v8.0h-1.5zM528.05,205.4h1.5v2.4h-1.5zM535.65,188.2h1.5v0.7h-1.5zM537.55,188.9h1.5v4.0h-1.5zM543.25,180.5h1.5v0.6h-1.5zM548.95,177.0h1.5v1.6h-1.5zM558.45,142.5h1.5v10.7h-1.5zM560.35,153.3h1.5v1.1h-1.5zM566.05,148.0h1.5v3.9h-1.5zM567.95,151.9h1.5v8.8h-1.5zM569.85,160.8h1.5v9.2h-1.5zM571.75,170.0h1.5v0.6h-1.5zM573.65,170.3h1.5v0.9h-1.5zM575.55,171.2h1.5v4.3h-1.5zM577.45,175.5h1.5v5.2h-1.5zM581.25,175.0h1.5v5.0h-1.5zM583.15,180.0h1.5v11.9h-1.5zM585.05,192.0h1.5v0.6h-1.5zM592.65,176.9h1.5v1.2h-1.5zM596.45,174.0h1.5v2.3h-1.5zM600.25,172.3h1.5v5.4h-1.5zM602.15,177.7h1.5v3.9h-1.5zM605.95,181.3h1.5v0.6h-1.5zM621.15,138.4h1.5v1.8h-1.5zM624.95,138.5h1.5v3.4h-1.5zM626.85,141.9h1.5v7.2h-1.5zM630.65,145.8h1.5v6.5h-1.5zM632.55,152.3h1.5v0.6h-1.5zM634.45,152.7h1.5v3.7h-1.5zM636.35,156.4h1.5v0.6h-1.5zM638.25,157.0h1.5v13.0h-1.5zM640.15,170.0h1.5v3.9h-1.5zM643.95,170.8h1.5v5.4h-1.5zM645.85,176.1h1.5v6.7h-1.5zM647.75,182.9h1.5v7.7h-1.5zM651.55,187.8h1.5v2.1h-1.5zM655.35,187.3h1.5v2.2h-1.5zM657.25,189.5h1.5v1.0h-1.5zM659.15,190.6h1.5v1.7h-1.5zM662.95,186.7h1.5v5.2h-1.5zM668.65,183.3h1.5v5.3h-1.5zM681.95,163.4h1.5v2.9h-1.5zM687.65,155.6h1.5v0.6h-1.5zM689.55,155.8h1.5v5.6h-1.5zM691.45,161.4h1.5v1.8h-1.5zM693.35,163.2h1.5v2.4h-1.5zM695.25,165.6h1.5v13.0h-1.5zM697.15,178.6h1.5v3.7h-1.5zM699.05,182.3h1.5v0.8h-1.5zM700.95,183.2h1.5v4.6h-1.5zM704.75,187.0h1.5v5.1h-1.5zM706.65,192.1h1.5v2.2h-1.5zM708.55,194.2h1.5v5.4h-1.5zM718.05,176.0h1.5v7.6h-1.5zM719.95,183.6h1.5v2.3h-1.5zM721.85,185.9h1.5v3.7h-1.5zM723.75,189.6h1.5v12.1h-1.5zM725.65,201.7h1.5v12.7h-1.5zM727.55,214.4h1.5v2.1h-1.5zM742.75,173.1h1.5v0.8h-1.5zM744.65,173.9h1.5v6.2h-1.5zM746.55,180.1h1.5v4.6h-1.5zM750.35,183.6h1.5v1.2h-1.5zM756.05,183.8h1.5v1.2h-1.5zM761.75,178.8h1.5v3.3h-1.5zM767.45,175.6h1.5v10.9h-1.5zM769.35,186.5h1.5v1.2h-1.5zM775.05,183.2h1.5v0.6h-1.5zM786.45,151.7h1.5v6.7h-1.5zM788.35,158.4h1.5v0.6h-1.5zM790.25,158.5h1.5v1.7h-1.5zM794.05,154.6h1.5v2.0h-1.5zM799.75,142.7h1.5v1.9h-1.5zM801.65,144.6h1.5v0.6h-1.5zM805.45,143.3h1.5v0.6h-1.5zM809.25,138.0h1.5v5.5h-1.5zM814.95,135.2h1.5v2.5h-1.5zM816.85,137.7h1.5v8.8h-1.5zM818.75,146.4h1.5v1.2h-1.5zM832.05,97.9h1.5v0.6h-1.5zM839.65,94.6h1.5v2.5h-1.5zM841.55,97.1h1.5v1.5h-1.5zM843.45,98.6h1.5v0.6h-1.5zM847.25,95.7h1.5v8.7h-1.5zM849.15,104.5h1.5v8.4h-1.5zM851.05,112.9h1.5v1.6h-1.5zM852.95,114.5h1.5v4.1h-1.5zM856.75,117.0h1.5v0.6h-1.5zM858.65,117.2h1.5v10.9h-1.5zM862.45,126.5h1.5v1.7h-1.5zM864.35,128.2h1.5v2.6h-1.5zM866.25,130.8h1.5v2.5h-1.5zM877.65,112.1h1.5v6.2h-1.5zM879.55,118.3h1.5v2.3h-1.5zM881.45,120.6h1.5v5.3h-1.5zM885.25,124.1h1.5v4.2h-1.5zM890.95,115.7h1.5v1.1h-1.5zM898.55,102.1h1.5v6.4h-1.5zM902.35,106.2h1.5v0.8h-1.5zM906.15,106.5h1.5v3.4h-1.5zM908.05,109.9h1.5v3.6h-1.5zM909.95,113.5h1.5v1.3h-1.5zM917.55,95.2h1.5v5.3h-1.5zM919.45,100.5h1.5v4.7h-1.5zM925.15,90.6h1.5v0.8h-1.5zM927.05,91.4h1.5v0.8h-1.5zM932.75,80.2h1.5v5.9h-1.5zM934.65,86.1h1.5v6.1h-1.5zM936.55,92.2h1.5v12.4h-1.5zM938.45,104.6h1.5v0.6h-1.5zM940.35,105.2h1.5v2.8h-1.5zM942.25,108.0h1.5v4.5h-1.5zM951.75,92.8h1.5v6.0h-1.5zM955.55,96.7h1.5v12.7h-1.5zM957.45,109.4h1.5v2.1h-1.5zM959.35,111.5h1.5v2.1h-1.5zM961.25,113.6h1.5v4.6h-1.5zM963.15,118.2h1.5v2.2h-1.5zM968.85,112.8h1.5v2.4h-1.5zM978.35,92.1h1.5v1.5h-1.5zM987.85,77.7h1.5v9.5h-1.5zM989.75,87.3h1.5v3.3h-1.5zM991.65,90.6h1.5v2.5h-1.5zM993.55,93.1h1.5v7.6h-1.5zM997.35,94.0h1.5v4.5h-1.5zM999.25,98.5h1.5v2.2h-1.5zM1006.85,89.9h1.5v0.6h-1.5zM1008.75,90.1h1.5v2.1h-1.5zM1012.55,85.1h1.5v13.0h-1.5zM1014.45,98.1h1.5v3.2h-1.5zM1016.35,101.3h1.5v2.6h-1.5zM1018.25,103.9h1.5v12.3h-1.5zM1020.15,116.2h1.5v13.0h-1.5zM1022.05,129.2h1.5v7.6h-1.5zM1025.85,136.1h1.5v0.6h-1.5zM1029.65,134.0h1.5v6.3h-1.5zM1031.55,140.4h1.5v1.6h-1.5zM1035.35,132.9h1.5v1.1h-1.5zM1037.25,134.0h1.5v0.6h-1.5zM1039.15,134.5h1.5v8.4h-1.5zM1050.55,112.2h1.5v1.1h-1.5zM1052.45,113.3h1.5v5.0h-1.5zM1054.35,118.3h1.5v10.7h-1.5zM1056.25,129.0h1.5v8.2h-1.5zM1058.15,137.1h1.5v6.0h-1.5zM1061.95,141.5h1.5v2.4h-1.5zM447.60,344.0h1.6v24.5h-1.6z" fill="#a02c4c" stroke="#1e1e1e" stroke-width="0.5"/>
<path d="M0.0,478.5 C0.6,478.8 2.8,481.0 3.8,480.5 C4.7,480.0 4.7,478.2 5.5,475.5 C6.3,472.8 7.6,467.0 8.8,464.2 C9.9,461.5 11.2,460.2 12.5,459.2 C13.8,458.3 15.0,458.7 16.2,458.5 C17.5,458.3 18.8,459.1 20.0,458.0 C21.2,456.9 22.5,454.0 23.8,451.8 C25.0,449.5 26.2,447.6 27.5,444.2 C28.8,440.9 30.0,435.5 31.2,431.8 C32.5,428.0 34.0,424.9 35.0,421.8 C36.0,418.6 36.7,415.3 37.5,413.0 C38.3,410.7 39.0,408.6 40.0,408.0 C41.0,407.4 42.5,409.0 43.8,409.2 C45.0,409.5 46.2,409.7 47.5,409.2 C48.8,408.8 50.2,407.8 51.2,406.8 C52.3,405.7 52.7,403.4 53.8,403.0 C54.8,402.6 56.2,403.8 57.5,404.2 C58.8,404.7 60.0,405.5 61.2,405.5 C62.5,405.5 63.8,404.7 65.0,404.2 C66.2,403.8 67.5,402.8 68.8,403.0 C70.0,403.2 71.5,404.5 72.5,405.5 C73.5,406.5 74.1,408.2 75.0,409.2 C75.9,410.3 77.0,412.0 78.0,411.8 C79.0,411.5 80.1,410.3 81.2,408.0 C82.4,405.7 83.8,401.1 85.0,398.0 C86.2,394.9 87.5,390.9 88.8,389.2 C90.0,387.6 91.2,388.0 92.5,388.0 C93.8,388.0 95.0,389.2 96.2,389.2 C97.5,389.2 98.9,388.4 100.0,388.0 C101.1,387.6 102.0,386.3 103.0,386.8 C104.0,387.2 105.1,389.2 106.2,390.5 C107.4,391.8 108.8,393.2 110.0,394.2 C111.2,395.3 112.5,396.5 113.8,396.8 C115.0,397.0 116.2,396.5 117.5,395.5 C118.8,394.5 120.0,391.8 121.2,390.5 C122.5,389.2 123.8,388.4 125.0,388.0 C126.2,387.6 127.5,388.2 128.8,388.0 C130.0,387.8 131.2,387.4 132.5,386.8 C133.8,386.1 135.2,384.7 136.2,384.2 C137.3,383.8 137.9,383.2 138.8,384.2 C139.6,385.3 140.4,387.8 141.2,390.5 C142.1,393.2 142.7,397.8 143.8,400.5 C144.8,403.2 146.2,405.3 147.5,406.8 C148.8,408.2 150.0,408.7 151.2,409.2 C152.5,409.8 153.8,410.4 155.0,410.0 C156.2,409.6 157.7,408.8 158.8,406.8 C159.8,404.8 160.2,401.3 161.2,398.0 C162.3,394.7 163.8,390.1 165.0,386.8 C166.2,383.4 167.5,380.3 168.8,378.0 C170.0,375.7 171.2,374.7 172.5,373.0 C173.8,371.3 175.2,369.7 176.2,368.0 C177.3,366.3 178.0,366.4 178.8,363.0 C179.5,359.6 179.6,352.2 180.5,347.5 C181.4,342.8 183.1,340.0 184.2,335.0 C185.4,330.0 186.3,321.7 187.5,317.5 C188.7,313.3 190.0,311.0 191.2,310.0 C192.5,309.0 193.5,310.3 195.0,311.2 C196.5,312.2 198.3,315.3 200.0,315.5 C201.7,315.7 203.3,313.8 205.0,312.5 C206.7,311.2 208.3,309.0 210.0,307.5 C211.7,306.0 213.3,304.0 215.0,303.8 C216.7,303.5 218.5,305.0 220.0,306.2 C221.5,307.5 222.5,310.6 223.8,311.2 C225.0,311.9 226.2,311.9 227.5,310.0 C228.8,308.1 230.0,302.2 231.2,300.0 C232.5,297.8 233.5,297.6 235.0,297.0 C236.5,296.4 238.3,297.2 240.0,296.2 C241.7,295.3 243.5,292.5 245.0,291.2 C246.5,290.0 247.5,288.5 248.8,288.8 C250.0,289.0 251.0,291.5 252.5,292.5 C254.0,293.5 255.8,294.4 257.5,295.0 C259.2,295.6 260.8,295.8 262.5,296.2 C264.2,296.8 266.0,297.6 267.5,298.0 C269.0,298.4 270.0,299.5 271.2,298.8 C272.5,298.0 273.8,295.8 275.0,293.8 C276.2,291.7 277.3,288.3 278.8,286.2 C280.2,284.2 281.9,282.4 283.8,281.2 C285.6,280.1 288.0,279.5 290.0,279.5 C292.0,279.5 294.7,280.8 296.0,281.2 C297.3,281.8 297.2,282.5 298.0,282.5 C298.8,282.5 300.0,281.9 301.0,281.2 C302.0,280.6 303.3,279.0 304.2,278.8 C305.2,278.5 305.9,278.8 306.8,279.5 C307.6,280.2 308.2,281.7 309.2,283.0 C310.3,284.3 311.8,286.1 313.0,287.5 C314.2,288.9 315.5,289.8 316.8,291.2 C318.0,292.7 319.2,294.8 320.5,296.2 C321.8,297.7 323.0,299.2 324.2,300.0 C325.5,300.8 326.8,301.2 328.0,301.2 C329.2,301.2 330.5,300.0 331.8,300.0 C333.0,300.0 334.2,301.2 335.5,301.2 C336.8,301.3 338.0,300.9 339.2,300.5 C340.5,300.1 341.8,299.5 343.0,298.8 C344.2,298.0 345.6,296.7 346.8,296.2 C347.9,295.8 349.0,295.4 350.0,296.2 C351.0,297.1 351.9,299.2 353.0,301.2 C354.1,303.3 355.6,306.9 356.8,308.8 C357.9,310.6 359.0,312.5 360.0,312.5 C361.0,312.5 362.0,310.6 363.0,308.8 C364.0,306.9 365.1,303.6 366.0,301.2 C366.9,298.9 367.5,295.8 368.5,294.5 C369.5,293.2 370.6,293.6 371.8,293.8 C372.9,293.9 374.2,295.3 375.5,295.5 C376.8,295.7 378.0,295.4 379.2,295.0 C380.5,294.6 381.8,292.9 383.0,293.0 C384.2,293.1 385.5,294.5 386.8,295.5 C388.0,296.5 389.2,298.0 390.5,298.8 C391.8,299.5 393.0,299.6 394.2,300.0 C395.5,300.4 396.8,301.0 398.0,301.2 C399.2,301.5 400.5,301.0 401.8,301.2 C403.0,301.5 404.2,302.7 405.5,302.5 C406.8,302.3 408.2,302.1 409.2,300.0 C410.3,297.9 410.8,294.2 411.8,290.0 C412.7,285.8 414.0,280.4 415.0,275.0 C416.0,269.6 416.9,262.5 418.0,257.5 C419.1,252.5 420.8,247.9 421.8,245.0 C422.7,242.1 423.0,241.5 423.8,240.0 C424.5,238.5 425.4,236.0 426.2,236.2 C427.1,236.5 427.9,238.5 428.8,241.2 C429.6,244.0 430.7,249.4 431.2,252.5 C431.8,255.6 431.5,255.8 432.0,260.0 C432.5,264.2 433.7,272.1 434.5,277.5 C435.3,282.9 436.1,288.1 437.0,292.5 C437.9,296.9 439.0,300.4 440.0,303.8 C441.0,307.1 442.2,309.8 443.0,312.5 C443.8,315.2 444.3,316.7 445.0,320.0 C445.7,323.3 446.3,328.3 447.0,332.5 C447.7,336.7 448.3,341.2 449.0,345.0 C449.7,348.8 450.3,352.7 451.0,355.0 C451.7,357.3 452.2,358.5 453.0,358.8 C453.8,359.0 454.7,357.3 455.5,356.2 C456.3,355.2 457.0,353.5 458.0,352.5 C459.0,351.5 460.3,351.2 461.2,350.0 C462.2,348.8 462.9,346.7 463.8,345.0 C464.6,343.3 465.4,341.2 466.2,340.0 C467.1,338.8 467.8,338.3 468.8,338.0 C469.7,337.7 471.0,338.7 472.0,338.0 C473.0,337.3 473.8,335.9 474.5,333.8 C475.2,331.6 475.8,329.4 476.5,325.0 C477.2,320.6 478.0,312.9 478.8,307.5 C479.5,302.1 480.4,297.1 481.2,292.5 C482.1,287.9 482.9,284.2 483.8,280.0 C484.6,275.8 485.4,271.2 486.2,267.5 C487.1,263.8 487.9,260.4 488.8,257.5 C489.6,254.6 490.4,251.2 491.2,250.0 C492.1,248.8 492.7,251.0 493.8,250.0 C494.8,249.0 496.2,246.7 497.5,243.8 C498.8,240.8 500.0,236.0 501.2,232.5 C502.5,229.0 503.8,225.6 505.0,222.5 C506.2,219.4 507.5,216.2 508.8,213.8 C510.0,211.2 511.2,209.6 512.5,207.5 C513.8,205.4 515.0,203.3 516.2,201.2 C517.5,199.2 518.9,196.5 520.0,195.0 C521.1,193.5 522.0,192.3 523.0,192.5 C524.0,192.7 525.2,194.4 526.2,196.2 C527.3,198.1 528.5,202.3 529.5,203.8 C530.5,205.2 531.4,206.0 532.5,205.0 C533.6,204.0 535.0,199.8 536.2,197.5 C537.5,195.2 538.8,192.7 540.0,191.2 C541.2,189.8 542.5,189.5 543.8,188.8 C545.0,188.0 546.4,187.8 547.5,187.0 C548.6,186.2 549.6,186.2 550.5,183.8 C551.4,181.3 552.2,176.5 553.0,172.5 C553.8,168.5 554.7,163.3 555.5,160.0 C556.3,156.7 557.0,154.1 558.0,152.5 C559.0,150.9 560.1,150.6 561.2,150.5 C562.4,150.4 563.8,151.2 565.0,152.0 C566.2,152.8 567.6,153.2 568.8,155.0 C569.9,156.8 571.0,160.2 572.0,162.5 C573.0,164.8 573.9,166.5 575.0,168.8 C576.1,171.0 577.6,174.0 578.8,176.2 C579.9,178.5 580.9,180.5 582.0,182.5 C583.1,184.5 584.4,187.6 585.5,188.0 C586.6,188.4 587.7,186.5 588.8,185.0 C589.8,183.5 591.0,180.3 592.0,178.8 C593.0,177.2 593.9,175.9 595.0,175.5 C596.1,175.1 597.5,175.9 598.8,176.2 C600.0,176.6 601.2,177.1 602.5,177.5 C603.8,177.9 605.0,178.8 606.2,178.8 C607.5,178.8 608.9,178.3 610.0,177.5 C611.1,176.7 612.1,176.2 613.0,173.8 C613.9,171.2 614.7,166.2 615.5,162.5 C616.3,158.8 617.2,154.4 618.0,151.2 C618.8,148.1 619.5,145.0 620.5,143.8 C621.5,142.5 622.6,143.3 623.8,143.8 C624.9,144.2 626.2,145.4 627.5,146.2 C628.8,147.1 630.1,147.3 631.2,148.8 C632.4,150.2 633.5,152.9 634.5,155.0 C635.5,157.1 636.5,159.2 637.5,161.2 C638.5,163.3 639.5,165.6 640.5,167.5 C641.5,169.4 642.7,170.6 643.8,172.5 C644.8,174.4 646.0,176.9 647.0,178.8 C648.0,180.6 648.9,182.6 650.0,183.8 C651.1,184.9 652.5,185.5 653.8,185.5 C655.0,185.5 656.2,183.8 657.5,183.8 C658.8,183.7 660.0,184.4 661.2,185.0 C662.5,185.6 663.8,187.4 665.0,187.5 C666.2,187.6 667.5,186.1 668.8,185.5 C670.0,184.9 671.2,183.9 672.5,183.8 C673.8,183.6 675.2,185.5 676.2,184.5 C677.3,183.5 677.9,180.3 678.8,177.5 C679.6,174.7 680.3,170.2 681.2,167.5 C682.2,164.8 683.5,162.5 684.5,161.2 C685.5,160.0 686.4,159.6 687.5,160.0 C688.6,160.4 689.8,162.7 691.2,163.8 C692.7,164.8 695.0,164.8 696.0,166.2 C697.0,167.7 696.3,170.8 697.0,172.5 C697.7,174.2 699.0,174.4 700.0,176.2 C701.0,178.1 702.0,181.5 703.0,183.8 C704.0,186.0 705.2,187.9 706.2,190.0 C707.3,192.1 708.5,195.5 709.5,196.2 C710.5,197.0 711.5,195.8 712.5,194.5 C713.5,193.2 714.5,190.5 715.5,188.8 C716.5,187.0 717.8,184.8 718.8,183.8 C719.7,182.7 720.4,181.9 721.2,182.5 C722.1,183.1 723.0,184.6 723.8,187.5 C724.5,190.4 724.8,196.0 725.5,200.0 C726.2,204.0 727.0,208.3 728.0,211.2 C729.0,214.2 730.2,217.1 731.2,217.5 C732.3,217.9 733.5,215.8 734.5,213.8 C735.5,211.7 736.2,208.5 737.0,205.0 C737.8,201.5 738.6,196.5 739.5,192.5 C740.4,188.5 741.5,184.0 742.5,181.2 C743.5,178.5 744.5,177.1 745.5,176.2 C746.5,175.4 747.7,175.2 748.8,176.2 C749.8,177.3 750.9,180.6 752.0,182.5 C753.1,184.4 754.2,186.9 755.5,187.5 C756.8,188.1 758.2,187.1 759.5,186.2 C760.8,185.4 761.9,183.5 763.0,182.5 C764.1,181.5 765.2,180.5 766.2,180.0 C767.3,179.5 768.4,179.1 769.5,179.5 C770.6,179.9 771.9,181.7 773.0,182.5 C774.1,183.3 775.3,185.1 776.2,184.5 C777.2,183.9 777.9,181.2 778.8,178.8 C779.6,176.3 780.3,172.7 781.2,170.0 C782.2,167.3 783.4,164.2 784.5,162.5 C785.6,160.8 786.8,160.4 788.0,160.0 C789.2,159.6 790.8,160.3 792.0,160.0 C793.2,159.7 794.0,159.2 795.0,158.0 C796.0,156.8 797.0,154.5 798.0,152.5 C799.0,150.5 800.2,148.1 801.2,146.2 C802.3,144.4 803.4,142.4 804.5,141.2 C805.6,140.1 806.9,139.7 808.0,139.5 C809.1,139.3 810.1,139.4 811.2,140.0 C812.4,140.6 813.8,142.5 815.0,143.0 C816.2,143.5 817.6,143.5 818.8,143.0 C819.9,142.5 821.0,141.8 822.0,140.0 C823.0,138.2 823.7,135.4 824.5,132.5 C825.3,129.6 826.2,125.8 827.0,122.5 C827.8,119.2 828.8,115.4 829.5,112.5 C830.2,109.6 830.5,107.3 831.2,105.0 C832.0,102.7 832.7,100.3 833.8,98.8 C834.8,97.2 836.2,96.1 837.5,95.5 C838.8,94.9 840.0,95.1 841.2,95.0 C842.5,94.9 843.9,94.6 845.0,95.0 C846.1,95.4 847.0,96.0 848.0,97.5 C849.0,99.0 850.2,101.7 851.2,103.8 C852.3,105.8 853.4,108.0 854.5,110.0 C855.6,112.0 856.9,113.8 858.0,115.5 C859.1,117.2 860.2,118.5 861.2,120.0 C862.3,121.5 863.5,122.8 864.5,124.5 C865.5,126.2 866.5,129.5 867.5,130.0 C868.5,130.5 869.5,129.0 870.5,127.5 C871.5,126.0 872.7,122.8 873.8,121.2 C874.8,119.7 876.0,118.2 877.0,118.0 C878.0,117.8 878.9,119.0 880.0,120.0 C881.1,121.0 882.6,122.9 883.8,123.8 C884.9,124.6 886.0,125.4 887.0,125.0 C888.0,124.6 889.0,122.8 890.0,121.2 C891.0,119.7 892.0,117.6 893.0,115.5 C894.0,113.4 895.2,110.7 896.2,108.8 C897.3,106.8 898.5,104.2 899.5,103.8 C900.5,103.3 901.4,105.2 902.5,106.2 C903.6,107.3 905.0,109.2 906.2,110.0 C907.5,110.8 908.8,111.2 910.0,111.2 C911.2,111.2 912.6,110.7 913.8,110.0 C914.9,109.3 915.9,108.5 917.0,107.0 C918.1,105.5 919.4,102.8 920.5,101.2 C921.6,99.7 922.6,99.0 923.8,97.5 C924.9,96.0 926.2,93.8 927.5,92.5 C928.8,91.2 930.0,89.7 931.2,89.5 C932.5,89.3 933.9,89.9 935.0,91.2 C936.1,92.6 937.0,95.3 938.0,97.5 C939.0,99.7 940.2,102.8 941.2,104.5 C942.3,106.2 943.5,108.1 944.5,108.0 C945.5,107.9 946.5,105.3 947.5,103.8 C948.5,102.2 949.5,99.8 950.5,98.8 C951.5,97.7 952.7,97.5 953.8,97.5 C954.8,97.5 956.0,97.7 957.0,98.8 C958.0,99.8 959.0,101.7 960.0,103.8 C961.0,105.8 962.0,109.3 963.0,111.2 C964.0,113.2 965.1,114.5 966.2,115.5 C967.4,116.5 968.9,117.8 970.0,117.5 C971.1,117.2 972.0,115.6 973.0,113.8 C974.0,111.9 975.2,108.8 976.2,106.2 C977.3,103.8 978.5,101.2 979.5,98.8 C980.5,96.2 981.5,93.6 982.5,91.2 C983.5,88.9 984.5,86.0 985.5,84.5 C986.5,83.0 987.8,81.5 988.8,82.0 C989.7,82.5 990.3,85.3 991.2,87.5 C992.2,89.7 993.4,93.5 994.5,95.0 C995.6,96.5 996.9,95.9 998.0,96.2 C999.1,96.6 1000.1,97.4 1001.2,97.0 C1002.4,96.6 1003.8,94.9 1005.0,93.8 C1006.2,92.6 1007.5,90.6 1008.8,90.0 C1010.0,89.4 1011.2,89.4 1012.5,90.0 C1013.8,90.6 1015.2,92.1 1016.2,93.8 C1017.3,95.4 1018.0,96.9 1018.8,100.0 C1019.5,103.1 1019.8,108.3 1020.5,112.5 C1021.2,116.7 1022.0,121.5 1023.0,125.0 C1024.0,128.5 1025.1,132.3 1026.2,133.8 C1027.4,135.2 1028.8,133.5 1030.0,133.8 C1031.2,134.0 1032.5,134.2 1033.8,135.0 C1035.0,135.8 1036.2,138.1 1037.5,138.8 C1038.8,139.4 1040.1,139.8 1041.2,138.8 C1042.4,137.7 1043.5,134.8 1044.5,132.5 C1045.5,130.2 1046.5,127.5 1047.5,125.0 C1048.5,122.5 1049.5,119.0 1050.5,117.5 C1051.5,116.0 1052.8,115.4 1053.8,116.2 C1054.7,117.1 1055.4,120.0 1056.2,122.5 C1057.1,125.0 1057.9,128.5 1058.8,131.2 C1059.6,134.0 1060.4,137.1 1061.2,138.8 C1062.1,140.4 1063.0,142.3 1063.8,141.2 C1064.5,140.2 1064.9,135.6 1065.5,132.5 C1066.1,129.4 1066.8,126.2 1067.5,122.5 C1068.2,118.8 1069.2,113.5 1070.0,110.0 C1070.8,106.5 1072.1,102.7 1072.5,101.2" fill="none" stroke="#0a0a0a" stroke-width="1.85" stroke-linejoin="round" stroke-linecap="round"/>
<line x1="17" y1="458" x2="17" y2="476" stroke="#0a0a0a" stroke-width="1.6"/>
</svg>
<div class="axis"></div>
<div class="tb">
 <svg style="left:3px;top:5px" width="8" height="9" viewBox="0 0 8 9"><circle cx="3.3" cy="3.6" r="2.7" fill="none" stroke="#222" stroke-width="1"/><path d="M5.2 5.7L7.6 8.3" stroke="#222" stroke-width="1.1"/></svg>
 <div class="t" style="left:14px;top:3.8px;font-weight:bold;font-size:8.4px;color:#111;transform:scaleX(0.8);transform-origin:0 0;-webkit-text-stroke:0.3px #111">GBPUSD</div>
 <svg style="left:56.3px;top:3.7px" width="11" height="11" viewBox="0 0 11 11"><circle cx="5.5" cy="5.5" r="5.2" fill="none" stroke="#444" stroke-width="0.7"/><path d="M5.5 3.3V7.7M3.3 5.5H7.7" stroke="#333" stroke-width="0.8"/></svg>
 <div class="sep" style="left:74.5px"></div>
 <div class="t" style="left:81.2px;letter-spacing:-0.3px">15m</div>
 <div class="t" style="left:102.3px;letter-spacing:-0.6px">1h</div>
 <div style="position:absolute;left:114.5px;top:0;width:12px;height:17.5px;background:#eeeff1;border-radius:0 0 2px 2px"></div>
 <div class="t" style="left:116px;color:#111">4h</div>
 <div class="t" style="left:131px">D</div>
 <div class="t" style="left:142px">W</div>
 <div class="t" style="left:155px">M</div>
 <svg style="left:169px;top:8px" width="5.5" height="4" viewBox="0 0 6 4"><path d="M0.6 0.6L3 2.8L5.4 0.6" fill="none" stroke="#444" stroke-width="1"/></svg>
 <div class="sep" style="left:180px"></div>
 <svg style="left:188px;top:3px" width="11" height="13" viewBox="0 0 11 13"><rect x="1.5" y="2.5" width="2.6" height="8" rx="0.5" fill="none" stroke="#333" stroke-width="0.8"/><path d="M2.8 0.5V2.5M2.8 10.5V12.5M8 2V4M8 8.5V10.5" stroke="#333" stroke-width="0.8"/><rect x="6.7" y="4" width="2.6" height="4.5" rx="0.5" fill="none" stroke="#333" stroke-width="0.8"/></svg>
 <div class="sep" style="left:206px"></div>
 <svg style="left:214.5px;top:3.5px" width="11" height="11" viewBox="0 0 11 11"><path d="M0.5 4.5L3.3 2.2L5.4 3.6L9.8 0.5" fill="none" stroke="#333" stroke-width="0.8"/><path d="M1 10.5V7.5H3V10.5M4.2 10.5V6H6.2V10.5M7.5 10.5V5H9.7V10.5M0.3 10.5H10.5" fill="none" stroke="#333" stroke-width="0.7"/></svg>
 <div class="t" style="left:229px;letter-spacing:-0.05px">Indicators</div>
 <svg style="left:274.5px;top:5px" width="9" height="9" viewBox="0 0 9 9"><rect x="0.5" y="0.5" width="3" height="3" rx="0.6" fill="none" stroke="#444" stroke-width="0.7"/><rect x="5.5" y="0.5" width="3" height="3" rx="0.6" fill="none" stroke="#444" stroke-width="0.7"/><rect x="0.5" y="5.5" width="3" height="3" rx="0.6" fill="none" stroke="#444" stroke-width="0.7"/><rect x="5.5" y="5.5" width="3" height="3" rx="0.6" fill="none" stroke="#444" stroke-width="0.7"/></svg>
 <div class="sep" style="left:291px"></div>
 <svg style="left:299px;top:3.5px" width="12" height="12" viewBox="0 0 12 12"><circle cx="5.5" cy="6" r="4.2" fill="none" stroke="#333" stroke-width="0.8"/><path d="M5.5 3.5V6.2H7.3M1.2 2.3L3 0.8M8 0.8L9.8 2.3" fill="none" stroke="#333" stroke-width="0.8"/><circle cx="9.3" cy="9.6" r="2.1" fill="#fff"/><path d="M9.3 7.9V11.3M7.6 9.6H11" stroke="#333" stroke-width="0.8"/></svg>
 <div class="t" style="left:315px">Alert</div>
 <svg style="left:343.5px;top:5px" width="9" height="9" viewBox="0 0 9 9"><path d="M4 0.8L0.6 4.5L4 8.2Z M8.4 0.8L5 4.5L8.4 8.2Z" fill="none" stroke="#333" stroke-width="0.7" stroke-linejoin="round"/></svg>
 <div class="t" style="left:357.5px;letter-spacing:-0.5px">Replay</div>
 <div class="sep" style="left:388.5px"></div>
 <svg style="left:397px;top:5.5px" width="9" height="8" viewBox="0 0 9 8"><path d="M3 0.8L0.8 3L3 5.2M0.8 3H5.5Q8 3 8 6.5" fill="none" stroke="#333" stroke-width="0.8"/></svg>
 <svg style="left:417.5px;top:5.5px" width="9" height="8" viewBox="0 0 9 8"><path d="M6 0.8L8.2 3L6 5.2M8.2 3H3.5Q1 3 1 6.5" fill="none" stroke="#c3c6cc" stroke-width="0.8"/></svg>

 <svg style="left:1015px;top:4px" width="11" height="10" viewBox="0 0 11 10"><rect x="0.5" y="0.5" width="10" height="9" rx="1.2" fill="none" stroke="#555" stroke-width="0.8"/></svg>
 <div class="t" style="left:1040px;top:1.5px;font-size:8.3px;line-height:10px">Gold</div>
 <div class="t" style="left:1042.8px;top:10.6px;font-size:6px;line-height:7px;color:#3a5cf0;letter-spacing:-0.15px;-webkit-text-stroke:0.15px #3a5cf0">Save</div>
 <svg style="left:1070.3px;top:7px" width="5" height="4" viewBox="0 0 6 4"><path d="M0.6 0.6L3 2.8L5.4 0.6" fill="none" stroke="#444" stroke-width="1"/></svg>
 <div class="sep" style="left:1081px"></div>
 <svg style="left:1089.5px;top:2.5px" width="12" height="13" viewBox="0 0 12 13"><path d="M6.4 2.9A3.7 3.7 0 1 0 8.2 6.4" fill="none" stroke="#333" stroke-width="0.8"/><path d="M7.3 9.4L10.1 11.9" stroke="#333" stroke-width="0.9"/><path d="M6.6 0.5L4.6 5.6H7.3L5.6 9.2" fill="none" stroke="#333" stroke-width="0.8" stroke-linejoin="round"/></svg>
 <svg style="left:1110px;top:3.3px" width="12" height="12" viewBox="0 0 12 12"><path d="M0.3 6L3.1 1.2H8.9L11.7 6L8.9 10.8H3.1Z" fill="none" stroke="#333" stroke-width="0.8" stroke-linejoin="round"/><circle cx="6" cy="6" r="2.1" fill="none" stroke="#333" stroke-width="0.8"/></svg>
 <svg style="left:1132px;top:4.6px" width="10" height="9.4" viewBox="0 0 10 10" preserveAspectRatio="none"><path d="M0.5 3V1.5Q0.5 0.5 1.5 0.5H3M7 0.5H8.5Q9.5 0.5 9.5 1.5V3M9.5 7V8.5Q9.5 9.5 8.5 9.5H7M3 9.5H1.5Q0.5 9.5 0.5 8.5V7" fill="none" stroke="#333" stroke-width="0.8"/></svg>
 <svg style="left:1151px;top:4px" width="12" height="10" viewBox="0 0 12 10"><path d="M1.5 2H3.5L4.5 0.6H7.5L8.5 2H10.5Q11.5 2 11.5 3V8.4Q11.5 9.4 10.5 9.4H1.5Q0.5 9.4 0.5 8.4V3Q0.5 2 1.5 2Z" fill="none" stroke="#333" stroke-width="0.8" stroke-linejoin="round"/><circle cx="6" cy="5.5" r="2" fill="none" stroke="#333" stroke-width="0.8"/></svg>
 <div style="position:absolute;left:1170px;top:0.9px;width:30px;height:15.6px;border-radius:8px;background:#242424;color:#fff;font-size:7.5px;line-height:15.8px;font-weight:bold;text-indent:6.8px">Pu</div>
</div>
<div class="dot"></div>
<div class="legend">O1.35647 H1.35938 L1.35587 C1.35813 +0.00166 (+0.12%)</div>
<div class="cnt"><svg style="position:absolute;left:4px;top:4px" width="5" height="4" viewBox="0 0 5 4"><path d="M0.5 0.7L2.5 2.6L4.5 0.7" fill="none" stroke="#222" stroke-width="1"/></svg><span style="position:absolute;left:11.3px">4</span></div>
<div class="usd"><span style="position:absolute;left:2.3px">USD</span><svg style="position:absolute;left:21.5px;top:5px" width="4" height="3" viewBox="0 0 4 3"><path d="M0 0.3H4L2 2.6Z" fill="#333"/></svg></div>
<div class="pl" style="top:46.0px">1.37000</div>
<div class="pl" style="top:78.4px">1.36000</div>
<div class="pl" style="top:143.2px">1.34000</div>
<div class="pl" style="top:175.6px">1.33000</div>
<div class="pl" style="top:208.0px">1.32000</div>
<div class="pl" style="top:240.4px">1.31000</div>
<div class="pl" style="top:272.8px">1.30000</div>
<div class="pl" style="top:305.2px">1.29000</div>
<div class="pl" style="top:337.6px">1.28000</div>
<div class="pl" style="top:370.0px">1.27000</div>
<div class="pl" style="top:402.4px">1.26000</div>
<div class="pl" style="top:434.8px">1.25000</div>
<div class="pl" style="top:467.2px">1.24000</div>
<div class="pl" style="top:499.6px">1.23000</div>
<div class="tag" style="left:1122px;width:27.6px;top:84.7px;background:#4caf50;font-size:6.8px;letter-spacing:-0.6px">GBPUSD</div>
<div class="tag" style="top:84.7px;background:#4caf50">1.35813</div>
<div class="tag" style="top:98.2px;background:#0c0c0c">1.35414</div>
<div class="tag" style="top:107.4px;background:#e5353f">1.35204</div>
<div class="tag" style="top:116.6px;background:#f7941d;color:#2a2a2a">1.35068</div>
<div class="tag" style="top:126.9px;background:#3461f2">1.34503</div>
<div class="dl" style="left:-14.0px">1</div>
<div class="dl" style="left:18.0px">14</div>
<div class="dl" style="left:51.0px">19</div>
<div class="dl" style="left:85.0px">24</div>
<div class="dl b" style="left:141.0px">Mar</div>
<div class="dl" style="left:175.0px">6</div>
<div class="dl" style="left:208.0px">11</div>
<div class="dl" style="left:243.0px">14</div>
<div class="dl" style="left:276.0px">19</div>
<div class="dl" style="left:310.0px">24</div>
<div class="dl" style="left:344.0px">27</div>
<div class="dl b" style="left:377.0px">Apr</div>
<div class="dl" style="left:411.0px">4</div>
<div class="dl" style="left:445.0px">9</div>
<div class="dl" style="left:479.0px">14</div>
<div class="dl" style="left:513.0px">17</div>
<div class="dl" style="left:546.0px">22</div>
<div class="dl" style="left:580.5px">25</div>
<div class="dl b" style="left:626.0px">May</div>
<div class="dl" style="left:659.0px">6</div>
<div class="dl" style="left:693.0px">9</div>
<div class="dl" style="left:726.0px">14</div>
<div class="dl" style="left:760.0px">19</div>
<div class="dl" style="left:794.0px">22</div>
<div class="dl" style="left:828.0px">27</div>
<div class="dl b" style="left:873.0px">Jun</div>
<div class="dl" style="left:907.0px">5</div>
<div class="dl" style="left:941.0px">10</div>
<div class="dl" style="left:975.0px">13</div>
<div class="dl" style="left:1008.0px">18</div>
<div class="dl" style="left:1042.0px">23</div>
<div class="dl" style="left:1076.0px">26</div>
<div class="dl b" style="left:1110.0px">Jul</div>
<svg style="position:absolute;left:5px;top:519.2px" width="16.3" height="8.5" viewBox="0 0 19 10"><path d="M0 0H7.4V9.6H3.7V3.7H0Z" fill="#111"/><circle cx="10" cy="1.9" r="1.9" fill="#111"/><path d="M14.2 0H18.8L14.6 9.6H10Z" fill="#111"/></svg>
<svg style="position:absolute;left:1161.9px;top:538px" width="10" height="10" viewBox="0 0 10 10"><circle cx="5" cy="5" r="3.7" fill="none" stroke="#333" stroke-width="0.8"/><circle cx="5" cy="5" r="1.4" fill="none" stroke="#333" stroke-width="0.7"/><circle cx="5" cy="5" r="0.5" fill="#333"/></svg>
</body></html>
